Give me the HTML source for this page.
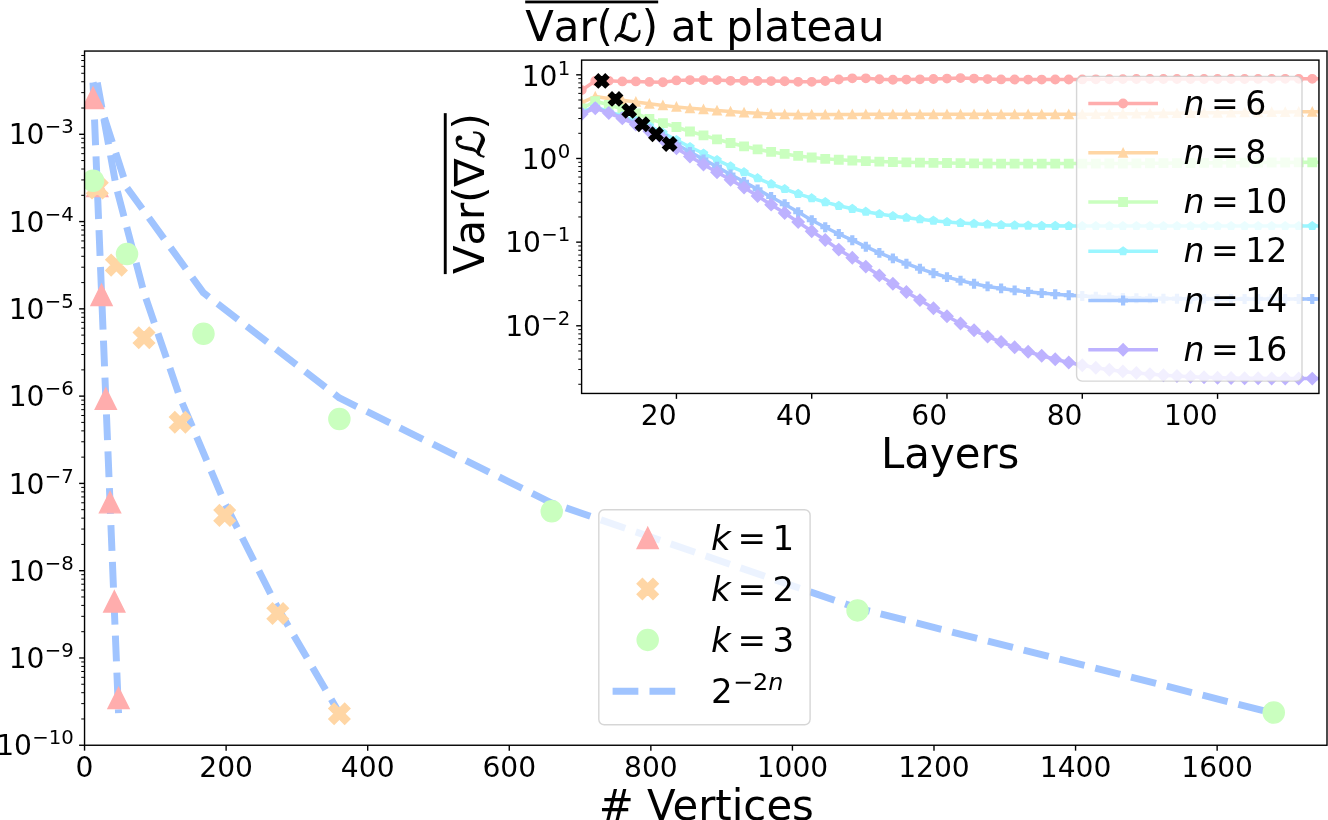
<!DOCTYPE html>
<html><head><meta charset="utf-8"><title>Var(L) at plateau</title>
<style>html,body{margin:0;padding:0;background:#fff}svg{display:block}</style></head>
<body>
<svg width="1328" height="820" viewBox="0 0 1328 820" font-family='"DejaVu Sans","Liberation Sans",sans-serif' fill="#000">
<rect width="1328" height="820" fill="#fff"/>
<defs><clipPath id="cm"><rect x="84.55" y="51.05" width="1242.45" height="694.2"/></clipPath>
<clipPath id="ci"><rect x="581.6" y="60.1" width="737.35" height="333.35"/></clipPath></defs>
<g clip-path="url(#cm)">
<polyline points="93.04,82.64 97.29,187.74 101.54,292.83 105.79,397.93 110.03,503.02 114.28,608.12 118.53,713.21" fill="none" stroke="#a0c4ff" stroke-width="6.96" stroke-dasharray="25.76 11.14" stroke-linejoin="round"/>
<polyline points="97.29,82.64 116.4,187.74 144.01,292.83 180.11,397.93 224.71,503.02 277.8,608.12 339.38,713.21" fill="none" stroke="#a0c4ff" stroke-width="6.96" stroke-dasharray="25.76 11.14" stroke-linejoin="round"/>
<polyline points="93.04,82.64 127.02,187.74 203.47,292.83 339.38,397.93 551.74,503.02 857.54,608.12 1273.77,713.21" fill="none" stroke="#a0c4ff" stroke-width="6.96" stroke-dasharray="25.76 11.14" stroke-linejoin="round"/>
<polygon points="93.04,87.35 82.49,108.45 103.59,108.45" fill="#ffadad" stroke="#ffadad" stroke-width="1.41" stroke-linejoin="miter"/>
<polygon points="97.29,175.35 86.74,196.45 107.84,196.45" fill="#ffadad" stroke="#ffadad" stroke-width="1.41" stroke-linejoin="miter"/>
<polygon points="101.54,284.35 90.99,305.45 112.09,305.45" fill="#ffadad" stroke="#ffadad" stroke-width="1.41" stroke-linejoin="miter"/>
<polygon points="105.79,388.15 95.24,409.25 116.34,409.25" fill="#ffadad" stroke="#ffadad" stroke-width="1.41" stroke-linejoin="miter"/>
<polygon points="110.03,491.75 99.48,512.85 120.58,512.85" fill="#ffadad" stroke="#ffadad" stroke-width="1.41" stroke-linejoin="miter"/>
<polygon points="114.28,590.95 103.73,612.05 124.83,612.05" fill="#ffadad" stroke="#ffadad" stroke-width="1.41" stroke-linejoin="miter"/>
<polygon points="118.53,687.55 107.98,708.65 129.08,708.65" fill="#ffadad" stroke="#ffadad" stroke-width="1.41" stroke-linejoin="miter"/>
<polygon points="92.02,177.45 97.29,182.72 102.57,177.45 107.84,182.72 102.57,188 107.84,193.28 102.57,198.55 97.29,193.28 92.02,198.55 86.74,193.28 92.02,188 86.74,182.72" fill="#ffd6a5" stroke="#ffd6a5" stroke-width="1.41" stroke-linejoin="miter"/>
<polygon points="111.13,254.55 116.4,259.82 121.68,254.55 126.95,259.82 121.68,265.1 126.95,270.38 121.68,275.65 116.4,270.38 111.13,275.65 105.85,270.38 111.13,265.1 105.85,259.82" fill="#ffd6a5" stroke="#ffd6a5" stroke-width="1.41" stroke-linejoin="miter"/>
<polygon points="138.74,327.25 144.01,332.52 149.29,327.25 154.56,332.52 149.29,337.8 154.56,343.08 149.29,348.35 144.01,343.08 138.74,348.35 133.46,343.08 138.74,337.8 133.46,332.52" fill="#ffd6a5" stroke="#ffd6a5" stroke-width="1.41" stroke-linejoin="miter"/>
<polygon points="174.84,411.65 180.11,416.92 185.39,411.65 190.66,416.92 185.39,422.2 190.66,427.48 185.39,432.75 180.11,427.48 174.84,432.75 169.56,427.48 174.84,422.2 169.56,416.92" fill="#ffd6a5" stroke="#ffd6a5" stroke-width="1.41" stroke-linejoin="miter"/>
<polygon points="219.43,504.85 224.71,510.12 229.98,504.85 235.26,510.12 229.98,515.4 235.26,520.68 229.98,525.95 224.71,520.68 219.43,525.95 214.16,520.68 219.43,515.4 214.16,510.12" fill="#ffd6a5" stroke="#ffd6a5" stroke-width="1.41" stroke-linejoin="miter"/>
<polygon points="272.52,602.95 277.8,608.22 283.07,602.95 288.35,608.22 283.07,613.5 288.35,618.78 283.07,624.05 277.8,618.78 272.52,624.05 267.25,618.78 272.52,613.5 267.25,608.22" fill="#ffd6a5" stroke="#ffd6a5" stroke-width="1.41" stroke-linejoin="miter"/>
<polygon points="334.11,703.15 339.38,708.42 344.66,703.15 349.93,708.42 344.66,713.7 349.93,718.98 344.66,724.25 339.38,718.98 334.11,724.25 328.83,718.98 334.11,713.7 328.83,708.42" fill="#ffd6a5" stroke="#ffd6a5" stroke-width="1.41" stroke-linejoin="miter"/>
<circle cx="93.04" cy="180.8" r="10.55" fill="#caffbf" stroke="#caffbf" stroke-width="1.41" stroke-linejoin="miter"/>
<circle cx="127.02" cy="254" r="10.55" fill="#caffbf" stroke="#caffbf" stroke-width="1.41" stroke-linejoin="miter"/>
<circle cx="203.47" cy="333.7" r="10.55" fill="#caffbf" stroke="#caffbf" stroke-width="1.41" stroke-linejoin="miter"/>
<circle cx="339.38" cy="419" r="10.55" fill="#caffbf" stroke="#caffbf" stroke-width="1.41" stroke-linejoin="miter"/>
<circle cx="551.74" cy="511.3" r="10.55" fill="#caffbf" stroke="#caffbf" stroke-width="1.41" stroke-linejoin="miter"/>
<circle cx="857.54" cy="610.4" r="10.55" fill="#caffbf" stroke="#caffbf" stroke-width="1.41" stroke-linejoin="miter"/>
<circle cx="1273.77" cy="712.5" r="10.55" fill="#caffbf" stroke="#caffbf" stroke-width="1.41" stroke-linejoin="miter"/>
</g>
<rect x="598.8" y="509.7" width="211.3" height="215.1" rx="5.5" ry="5.5" fill="#fff" fill-opacity="0.8" stroke="#ccc" stroke-opacity="0.8" stroke-width="1.41"/>
<polygon points="647.7,527.45 637.15,548.55 658.25,548.55" fill="#ffadad" stroke="#ffadad" stroke-width="1.41" stroke-linejoin="miter"/>
<polygon points="642.42,578.45 647.7,583.72 652.98,578.45 658.25,583.72 652.98,589 658.25,594.28 652.98,599.55 647.7,594.28 642.42,599.55 637.15,594.28 642.42,589 637.15,583.72" fill="#ffd6a5" stroke="#ffd6a5" stroke-width="1.41" stroke-linejoin="miter"/>
<circle cx="647.7" cy="639.9" r="10.55" fill="#caffbf" stroke="#caffbf" stroke-width="1.41" stroke-linejoin="miter"/>
<line x1="612.6" x2="679.3" y1="691.3" y2="691.3" stroke="#a0c4ff" stroke-width="6.96" stroke-dasharray="25.76 11.14"/>
<text font-size="34.1" y="549.6"><tspan x="711" font-style="oblique">k</tspan><tspan x="737.39">=</tspan><tspan x="772.61">1</tspan></text>
<text font-size="34.1" y="600.6"><tspan x="711" font-style="oblique">k</tspan><tspan x="737.39">=</tspan><tspan x="772.61">2</tspan></text>
<text font-size="34.1" y="651.5"><tspan x="711" font-style="oblique">k</tspan><tspan x="737.39">=</tspan><tspan x="772.61">3</tspan></text>
<text font-size="34.1" y="702.9"><tspan x="711">2</tspan><tspan font-size="23.87" x="733.02" dy="-13.05">−2</tspan><tspan font-size="23.87" font-style="oblique" x="768.21">n</tspan></text>
<rect x="84.55" y="51.05" width="1242.45" height="694.2" fill="none" stroke="#000" stroke-width="1.4"/>
<line x1="84.55" x2="84.55" y1="745.25" y2="750.67" stroke="#000" stroke-width="1.4"/>
<text x="84.55" y="776.75" font-size="28.13" text-anchor="middle" >0</text>
<line x1="226.12" x2="226.12" y1="745.25" y2="750.67" stroke="#000" stroke-width="1.4"/>
<text x="226.12" y="776.75" font-size="28.13" text-anchor="middle" >200</text>
<line x1="367.7" x2="367.7" y1="745.25" y2="750.67" stroke="#000" stroke-width="1.4"/>
<text x="367.7" y="776.75" font-size="28.13" text-anchor="middle" >400</text>
<line x1="509.27" x2="509.27" y1="745.25" y2="750.67" stroke="#000" stroke-width="1.4"/>
<text x="509.27" y="776.75" font-size="28.13" text-anchor="middle" >600</text>
<line x1="650.85" x2="650.85" y1="745.25" y2="750.67" stroke="#000" stroke-width="1.4"/>
<text x="650.85" y="776.75" font-size="28.13" text-anchor="middle" >800</text>
<line x1="792.42" x2="792.42" y1="745.25" y2="750.67" stroke="#000" stroke-width="1.4"/>
<text x="792.42" y="776.75" font-size="28.13" text-anchor="middle" >1000</text>
<line x1="933.99" x2="933.99" y1="745.25" y2="750.67" stroke="#000" stroke-width="1.4"/>
<text x="933.99" y="776.75" font-size="28.13" text-anchor="middle" >1200</text>
<line x1="1075.57" x2="1075.57" y1="745.25" y2="750.67" stroke="#000" stroke-width="1.4"/>
<text x="1075.57" y="776.75" font-size="28.13" text-anchor="middle" >1400</text>
<line x1="1217.14" x2="1217.14" y1="745.25" y2="750.67" stroke="#000" stroke-width="1.4"/>
<text x="1217.14" y="776.75" font-size="28.13" text-anchor="middle" >1600</text>
<line x1="79.13" x2="84.55" y1="745.25" y2="745.25" stroke="#000" stroke-width="1.4"/>
<text font-size="28.13" y="755.35" x="-3.82">10<tspan font-size="19.69" x="32.25" dy="-10.99">−10</tspan></text>
<line x1="79.13" x2="84.55" y1="657.97" y2="657.97" stroke="#000" stroke-width="1.4"/>
<text font-size="28.13" y="668.07" x="8.71">10<tspan font-size="19.69" x="44.78" dy="-10.99">−9</tspan></text>
<line x1="79.13" x2="84.55" y1="570.69" y2="570.69" stroke="#000" stroke-width="1.4"/>
<text font-size="28.13" y="580.79" x="8.71">10<tspan font-size="19.69" x="44.78" dy="-10.99">−8</tspan></text>
<line x1="79.13" x2="84.55" y1="483.41" y2="483.41" stroke="#000" stroke-width="1.4"/>
<text font-size="28.13" y="493.51" x="8.71">10<tspan font-size="19.69" x="44.78" dy="-10.99">−7</tspan></text>
<line x1="79.13" x2="84.55" y1="396.13" y2="396.13" stroke="#000" stroke-width="1.4"/>
<text font-size="28.13" y="406.23" x="8.71">10<tspan font-size="19.69" x="44.78" dy="-10.99">−6</tspan></text>
<line x1="79.13" x2="84.55" y1="308.85" y2="308.85" stroke="#000" stroke-width="1.4"/>
<text font-size="28.13" y="318.95" x="8.71">10<tspan font-size="19.69" x="44.78" dy="-10.99">−5</tspan></text>
<line x1="79.13" x2="84.55" y1="221.57" y2="221.57" stroke="#000" stroke-width="1.4"/>
<text font-size="28.13" y="231.67" x="8.71">10<tspan font-size="19.69" x="44.78" dy="-10.99">−4</tspan></text>
<line x1="79.13" x2="84.55" y1="134.29" y2="134.29" stroke="#000" stroke-width="1.4"/>
<text font-size="28.13" y="144.39" x="8.71">10<tspan font-size="19.69" x="44.78" dy="-10.99">−3</tspan></text>
<line x1="81.24" x2="84.55" y1="718.98" y2="718.98" stroke="#000" stroke-width="1.0"/>
<line x1="81.24" x2="84.55" y1="703.61" y2="703.61" stroke="#000" stroke-width="1.0"/>
<line x1="81.24" x2="84.55" y1="692.7" y2="692.7" stroke="#000" stroke-width="1.0"/>
<line x1="81.24" x2="84.55" y1="684.24" y2="684.24" stroke="#000" stroke-width="1.0"/>
<line x1="81.24" x2="84.55" y1="677.33" y2="677.33" stroke="#000" stroke-width="1.0"/>
<line x1="81.24" x2="84.55" y1="671.49" y2="671.49" stroke="#000" stroke-width="1.0"/>
<line x1="81.24" x2="84.55" y1="666.43" y2="666.43" stroke="#000" stroke-width="1.0"/>
<line x1="81.24" x2="84.55" y1="661.96" y2="661.96" stroke="#000" stroke-width="1.0"/>
<line x1="81.24" x2="84.55" y1="631.7" y2="631.7" stroke="#000" stroke-width="1.0"/>
<line x1="81.24" x2="84.55" y1="616.33" y2="616.33" stroke="#000" stroke-width="1.0"/>
<line x1="81.24" x2="84.55" y1="605.42" y2="605.42" stroke="#000" stroke-width="1.0"/>
<line x1="81.24" x2="84.55" y1="596.96" y2="596.96" stroke="#000" stroke-width="1.0"/>
<line x1="81.24" x2="84.55" y1="590.05" y2="590.05" stroke="#000" stroke-width="1.0"/>
<line x1="81.24" x2="84.55" y1="584.21" y2="584.21" stroke="#000" stroke-width="1.0"/>
<line x1="81.24" x2="84.55" y1="579.15" y2="579.15" stroke="#000" stroke-width="1.0"/>
<line x1="81.24" x2="84.55" y1="574.68" y2="574.68" stroke="#000" stroke-width="1.0"/>
<line x1="81.24" x2="84.55" y1="544.42" y2="544.42" stroke="#000" stroke-width="1.0"/>
<line x1="81.24" x2="84.55" y1="529.05" y2="529.05" stroke="#000" stroke-width="1.0"/>
<line x1="81.24" x2="84.55" y1="518.14" y2="518.14" stroke="#000" stroke-width="1.0"/>
<line x1="81.24" x2="84.55" y1="509.68" y2="509.68" stroke="#000" stroke-width="1.0"/>
<line x1="81.24" x2="84.55" y1="502.77" y2="502.77" stroke="#000" stroke-width="1.0"/>
<line x1="81.24" x2="84.55" y1="496.93" y2="496.93" stroke="#000" stroke-width="1.0"/>
<line x1="81.24" x2="84.55" y1="491.87" y2="491.87" stroke="#000" stroke-width="1.0"/>
<line x1="81.24" x2="84.55" y1="487.4" y2="487.4" stroke="#000" stroke-width="1.0"/>
<line x1="81.24" x2="84.55" y1="457.14" y2="457.14" stroke="#000" stroke-width="1.0"/>
<line x1="81.24" x2="84.55" y1="441.77" y2="441.77" stroke="#000" stroke-width="1.0"/>
<line x1="81.24" x2="84.55" y1="430.86" y2="430.86" stroke="#000" stroke-width="1.0"/>
<line x1="81.24" x2="84.55" y1="422.4" y2="422.4" stroke="#000" stroke-width="1.0"/>
<line x1="81.24" x2="84.55" y1="415.49" y2="415.49" stroke="#000" stroke-width="1.0"/>
<line x1="81.24" x2="84.55" y1="409.65" y2="409.65" stroke="#000" stroke-width="1.0"/>
<line x1="81.24" x2="84.55" y1="404.59" y2="404.59" stroke="#000" stroke-width="1.0"/>
<line x1="81.24" x2="84.55" y1="400.12" y2="400.12" stroke="#000" stroke-width="1.0"/>
<line x1="81.24" x2="84.55" y1="369.86" y2="369.86" stroke="#000" stroke-width="1.0"/>
<line x1="81.24" x2="84.55" y1="354.49" y2="354.49" stroke="#000" stroke-width="1.0"/>
<line x1="81.24" x2="84.55" y1="343.58" y2="343.58" stroke="#000" stroke-width="1.0"/>
<line x1="81.24" x2="84.55" y1="335.12" y2="335.12" stroke="#000" stroke-width="1.0"/>
<line x1="81.24" x2="84.55" y1="328.21" y2="328.21" stroke="#000" stroke-width="1.0"/>
<line x1="81.24" x2="84.55" y1="322.37" y2="322.37" stroke="#000" stroke-width="1.0"/>
<line x1="81.24" x2="84.55" y1="317.31" y2="317.31" stroke="#000" stroke-width="1.0"/>
<line x1="81.24" x2="84.55" y1="312.84" y2="312.84" stroke="#000" stroke-width="1.0"/>
<line x1="81.24" x2="84.55" y1="282.58" y2="282.58" stroke="#000" stroke-width="1.0"/>
<line x1="81.24" x2="84.55" y1="267.21" y2="267.21" stroke="#000" stroke-width="1.0"/>
<line x1="81.24" x2="84.55" y1="256.3" y2="256.3" stroke="#000" stroke-width="1.0"/>
<line x1="81.24" x2="84.55" y1="247.84" y2="247.84" stroke="#000" stroke-width="1.0"/>
<line x1="81.24" x2="84.55" y1="240.93" y2="240.93" stroke="#000" stroke-width="1.0"/>
<line x1="81.24" x2="84.55" y1="235.09" y2="235.09" stroke="#000" stroke-width="1.0"/>
<line x1="81.24" x2="84.55" y1="230.03" y2="230.03" stroke="#000" stroke-width="1.0"/>
<line x1="81.24" x2="84.55" y1="225.56" y2="225.56" stroke="#000" stroke-width="1.0"/>
<line x1="81.24" x2="84.55" y1="195.3" y2="195.3" stroke="#000" stroke-width="1.0"/>
<line x1="81.24" x2="84.55" y1="179.93" y2="179.93" stroke="#000" stroke-width="1.0"/>
<line x1="81.24" x2="84.55" y1="169.02" y2="169.02" stroke="#000" stroke-width="1.0"/>
<line x1="81.24" x2="84.55" y1="160.56" y2="160.56" stroke="#000" stroke-width="1.0"/>
<line x1="81.24" x2="84.55" y1="153.65" y2="153.65" stroke="#000" stroke-width="1.0"/>
<line x1="81.24" x2="84.55" y1="147.81" y2="147.81" stroke="#000" stroke-width="1.0"/>
<line x1="81.24" x2="84.55" y1="142.75" y2="142.75" stroke="#000" stroke-width="1.0"/>
<line x1="81.24" x2="84.55" y1="138.28" y2="138.28" stroke="#000" stroke-width="1.0"/>
<line x1="81.24" x2="84.55" y1="108.02" y2="108.02" stroke="#000" stroke-width="1.0"/>
<line x1="81.24" x2="84.55" y1="92.65" y2="92.65" stroke="#000" stroke-width="1.0"/>
<line x1="81.24" x2="84.55" y1="81.74" y2="81.74" stroke="#000" stroke-width="1.0"/>
<line x1="81.24" x2="84.55" y1="73.28" y2="73.28" stroke="#000" stroke-width="1.0"/>
<line x1="81.24" x2="84.55" y1="66.37" y2="66.37" stroke="#000" stroke-width="1.0"/>
<line x1="81.24" x2="84.55" y1="60.53" y2="60.53" stroke="#000" stroke-width="1.0"/>
<line x1="81.24" x2="84.55" y1="55.47" y2="55.47" stroke="#000" stroke-width="1.0"/>
<text x="706.3" y="819.6" font-size="41.85" text-anchor="middle" ># Vertices</text>
<text font-size="41.8" y="40.9" x="525.2 553.8 579.41 596.59">Var(</text>
<text transform="translate(613.4 40.9) skewX(-7)" font-size="37.62" x="0" y="0" stroke="#000" stroke-width="1.0">ℒ</text>
<text font-size="41.8" y="40.9" x="641.87">)</text>
<text font-size="41.85" y="40.5" x="671.0">at plateau</text>
<rect x="525.2" y="0.55" width="132.98" height="2.8"/>
<rect x="581.6" y="60.1" width="737.35" height="333.35" fill="#fff"/>
<g clip-path="url(#ci)">
<polyline points="581.73,90.1 595.26,81 608.79,80.8 622.32,81.4 635.85,81.4 649.37,81.9 662.9,82.2 676.43,80.4 689.96,80.1 703.49,80.1 717.01,80.1 730.54,80.8 744.07,80.8 757.6,81 771.13,81.1 784.66,81.2 798.18,81.8 811.71,81.8 825.24,81 838.77,79.5 852.3,78.3 865.82,78.3 879.35,79.2 892.88,79.7 906.41,79.56 919.94,79.3 933.47,78.99 946.99,78.6 960.52,78.1 974.05,78.6 987.58,79.07 1001.11,79.4 1014.63,79.54 1028.16,79.6 1041.69,79.58 1055.22,79.53 1068.75,79.47 1082.28,79.4 1095.8,79.32 1109.33,79.22 1122.86,79.11 1136.39,79.03 1149.92,79 1163.45,79 1176.97,79 1190.5,79 1204.03,79 1217.56,79 1231.09,78.99 1244.61,78.96 1258.14,78.92 1271.67,78.88 1285.2,78.84 1298.73,78.81 1312.26,78.8 1325.78,78.8" fill="none" stroke="#ffadad" stroke-width="3.52" stroke-linejoin="round"/>
<circle cx="581.73" cy="90.1" r="4.22" fill="#ffadad" stroke="#ffadad" stroke-width="1.41" stroke-linejoin="miter"/>
<circle cx="595.26" cy="81" r="4.22" fill="#ffadad" stroke="#ffadad" stroke-width="1.41" stroke-linejoin="miter"/>
<circle cx="608.79" cy="80.8" r="4.22" fill="#ffadad" stroke="#ffadad" stroke-width="1.41" stroke-linejoin="miter"/>
<circle cx="622.32" cy="81.4" r="4.22" fill="#ffadad" stroke="#ffadad" stroke-width="1.41" stroke-linejoin="miter"/>
<circle cx="635.85" cy="81.4" r="4.22" fill="#ffadad" stroke="#ffadad" stroke-width="1.41" stroke-linejoin="miter"/>
<circle cx="649.37" cy="81.9" r="4.22" fill="#ffadad" stroke="#ffadad" stroke-width="1.41" stroke-linejoin="miter"/>
<circle cx="662.9" cy="82.2" r="4.22" fill="#ffadad" stroke="#ffadad" stroke-width="1.41" stroke-linejoin="miter"/>
<circle cx="676.43" cy="80.4" r="4.22" fill="#ffadad" stroke="#ffadad" stroke-width="1.41" stroke-linejoin="miter"/>
<circle cx="689.96" cy="80.1" r="4.22" fill="#ffadad" stroke="#ffadad" stroke-width="1.41" stroke-linejoin="miter"/>
<circle cx="703.49" cy="80.1" r="4.22" fill="#ffadad" stroke="#ffadad" stroke-width="1.41" stroke-linejoin="miter"/>
<circle cx="717.01" cy="80.1" r="4.22" fill="#ffadad" stroke="#ffadad" stroke-width="1.41" stroke-linejoin="miter"/>
<circle cx="730.54" cy="80.8" r="4.22" fill="#ffadad" stroke="#ffadad" stroke-width="1.41" stroke-linejoin="miter"/>
<circle cx="744.07" cy="80.8" r="4.22" fill="#ffadad" stroke="#ffadad" stroke-width="1.41" stroke-linejoin="miter"/>
<circle cx="757.6" cy="81" r="4.22" fill="#ffadad" stroke="#ffadad" stroke-width="1.41" stroke-linejoin="miter"/>
<circle cx="771.13" cy="81.1" r="4.22" fill="#ffadad" stroke="#ffadad" stroke-width="1.41" stroke-linejoin="miter"/>
<circle cx="784.66" cy="81.2" r="4.22" fill="#ffadad" stroke="#ffadad" stroke-width="1.41" stroke-linejoin="miter"/>
<circle cx="798.18" cy="81.8" r="4.22" fill="#ffadad" stroke="#ffadad" stroke-width="1.41" stroke-linejoin="miter"/>
<circle cx="811.71" cy="81.8" r="4.22" fill="#ffadad" stroke="#ffadad" stroke-width="1.41" stroke-linejoin="miter"/>
<circle cx="825.24" cy="81" r="4.22" fill="#ffadad" stroke="#ffadad" stroke-width="1.41" stroke-linejoin="miter"/>
<circle cx="838.77" cy="79.5" r="4.22" fill="#ffadad" stroke="#ffadad" stroke-width="1.41" stroke-linejoin="miter"/>
<circle cx="852.3" cy="78.3" r="4.22" fill="#ffadad" stroke="#ffadad" stroke-width="1.41" stroke-linejoin="miter"/>
<circle cx="865.82" cy="78.3" r="4.22" fill="#ffadad" stroke="#ffadad" stroke-width="1.41" stroke-linejoin="miter"/>
<circle cx="879.35" cy="79.2" r="4.22" fill="#ffadad" stroke="#ffadad" stroke-width="1.41" stroke-linejoin="miter"/>
<circle cx="892.88" cy="79.7" r="4.22" fill="#ffadad" stroke="#ffadad" stroke-width="1.41" stroke-linejoin="miter"/>
<circle cx="906.41" cy="79.56" r="4.22" fill="#ffadad" stroke="#ffadad" stroke-width="1.41" stroke-linejoin="miter"/>
<circle cx="919.94" cy="79.3" r="4.22" fill="#ffadad" stroke="#ffadad" stroke-width="1.41" stroke-linejoin="miter"/>
<circle cx="933.47" cy="78.99" r="4.22" fill="#ffadad" stroke="#ffadad" stroke-width="1.41" stroke-linejoin="miter"/>
<circle cx="946.99" cy="78.6" r="4.22" fill="#ffadad" stroke="#ffadad" stroke-width="1.41" stroke-linejoin="miter"/>
<circle cx="960.52" cy="78.1" r="4.22" fill="#ffadad" stroke="#ffadad" stroke-width="1.41" stroke-linejoin="miter"/>
<circle cx="974.05" cy="78.6" r="4.22" fill="#ffadad" stroke="#ffadad" stroke-width="1.41" stroke-linejoin="miter"/>
<circle cx="987.58" cy="79.07" r="4.22" fill="#ffadad" stroke="#ffadad" stroke-width="1.41" stroke-linejoin="miter"/>
<circle cx="1001.11" cy="79.4" r="4.22" fill="#ffadad" stroke="#ffadad" stroke-width="1.41" stroke-linejoin="miter"/>
<circle cx="1014.63" cy="79.54" r="4.22" fill="#ffadad" stroke="#ffadad" stroke-width="1.41" stroke-linejoin="miter"/>
<circle cx="1028.16" cy="79.6" r="4.22" fill="#ffadad" stroke="#ffadad" stroke-width="1.41" stroke-linejoin="miter"/>
<circle cx="1041.69" cy="79.58" r="4.22" fill="#ffadad" stroke="#ffadad" stroke-width="1.41" stroke-linejoin="miter"/>
<circle cx="1055.22" cy="79.53" r="4.22" fill="#ffadad" stroke="#ffadad" stroke-width="1.41" stroke-linejoin="miter"/>
<circle cx="1068.75" cy="79.47" r="4.22" fill="#ffadad" stroke="#ffadad" stroke-width="1.41" stroke-linejoin="miter"/>
<circle cx="1082.28" cy="79.4" r="4.22" fill="#ffadad" stroke="#ffadad" stroke-width="1.41" stroke-linejoin="miter"/>
<circle cx="1095.8" cy="79.32" r="4.22" fill="#ffadad" stroke="#ffadad" stroke-width="1.41" stroke-linejoin="miter"/>
<circle cx="1109.33" cy="79.22" r="4.22" fill="#ffadad" stroke="#ffadad" stroke-width="1.41" stroke-linejoin="miter"/>
<circle cx="1122.86" cy="79.11" r="4.22" fill="#ffadad" stroke="#ffadad" stroke-width="1.41" stroke-linejoin="miter"/>
<circle cx="1136.39" cy="79.03" r="4.22" fill="#ffadad" stroke="#ffadad" stroke-width="1.41" stroke-linejoin="miter"/>
<circle cx="1149.92" cy="79" r="4.22" fill="#ffadad" stroke="#ffadad" stroke-width="1.41" stroke-linejoin="miter"/>
<circle cx="1163.45" cy="79" r="4.22" fill="#ffadad" stroke="#ffadad" stroke-width="1.41" stroke-linejoin="miter"/>
<circle cx="1176.97" cy="79" r="4.22" fill="#ffadad" stroke="#ffadad" stroke-width="1.41" stroke-linejoin="miter"/>
<circle cx="1190.5" cy="79" r="4.22" fill="#ffadad" stroke="#ffadad" stroke-width="1.41" stroke-linejoin="miter"/>
<circle cx="1204.03" cy="79" r="4.22" fill="#ffadad" stroke="#ffadad" stroke-width="1.41" stroke-linejoin="miter"/>
<circle cx="1217.56" cy="79" r="4.22" fill="#ffadad" stroke="#ffadad" stroke-width="1.41" stroke-linejoin="miter"/>
<circle cx="1231.09" cy="78.99" r="4.22" fill="#ffadad" stroke="#ffadad" stroke-width="1.41" stroke-linejoin="miter"/>
<circle cx="1244.61" cy="78.96" r="4.22" fill="#ffadad" stroke="#ffadad" stroke-width="1.41" stroke-linejoin="miter"/>
<circle cx="1258.14" cy="78.92" r="4.22" fill="#ffadad" stroke="#ffadad" stroke-width="1.41" stroke-linejoin="miter"/>
<circle cx="1271.67" cy="78.88" r="4.22" fill="#ffadad" stroke="#ffadad" stroke-width="1.41" stroke-linejoin="miter"/>
<circle cx="1285.2" cy="78.84" r="4.22" fill="#ffadad" stroke="#ffadad" stroke-width="1.41" stroke-linejoin="miter"/>
<circle cx="1298.73" cy="78.81" r="4.22" fill="#ffadad" stroke="#ffadad" stroke-width="1.41" stroke-linejoin="miter"/>
<circle cx="1312.26" cy="78.8" r="4.22" fill="#ffadad" stroke="#ffadad" stroke-width="1.41" stroke-linejoin="miter"/>
<circle cx="1325.78" cy="78.8" r="4.22" fill="#ffadad" stroke="#ffadad" stroke-width="1.41" stroke-linejoin="miter"/>
<polyline points="581.73,102.6 595.26,96.5 608.79,98.6 622.32,100.2 635.85,101.9 649.37,103.7 662.9,105.4 676.43,106.9 689.96,108.2 703.49,109.3 717.01,110.5 730.54,111.6 744.07,112.5 757.6,113.3 771.13,114 784.66,114.35 798.18,114.5 811.71,114.5 825.24,114.5 838.77,114.47 852.3,114.41 865.82,114.35 879.35,114.3 892.88,114.27 906.41,114.24 919.94,114.22 933.47,114.21 946.99,114.2 960.52,114.2 974.05,114.2 987.58,114.2 1001.11,114.2 1014.63,114.2 1028.16,114.2 1041.69,114.2 1055.22,114.2 1068.75,114.2 1082.28,114.2 1095.8,114.15 1109.33,114.03 1122.86,113.85 1136.39,113.67 1149.92,113.5 1163.45,113.35 1176.97,113.18 1190.5,113.02 1204.03,112.85 1217.56,112.7 1231.09,112.55 1244.61,112.42 1258.14,112.28 1271.67,112.14 1285.2,112 1298.73,111.84 1312.26,111.7 1325.78,111.6" fill="none" stroke="#ffd6a5" stroke-width="3.52" stroke-linejoin="round"/>
<polygon points="581.73,98.38 577.51,106.82 585.95,106.82" fill="#ffd6a5" stroke="#ffd6a5" stroke-width="1.41" stroke-linejoin="miter"/>
<polygon points="595.26,92.28 591.04,100.72 599.48,100.72" fill="#ffd6a5" stroke="#ffd6a5" stroke-width="1.41" stroke-linejoin="miter"/>
<polygon points="608.79,94.38 604.57,102.82 613.01,102.82" fill="#ffd6a5" stroke="#ffd6a5" stroke-width="1.41" stroke-linejoin="miter"/>
<polygon points="622.32,95.98 618.1,104.42 626.54,104.42" fill="#ffd6a5" stroke="#ffd6a5" stroke-width="1.41" stroke-linejoin="miter"/>
<polygon points="635.85,97.68 631.63,106.12 640.07,106.12" fill="#ffd6a5" stroke="#ffd6a5" stroke-width="1.41" stroke-linejoin="miter"/>
<polygon points="649.37,99.48 645.15,107.92 653.59,107.92" fill="#ffd6a5" stroke="#ffd6a5" stroke-width="1.41" stroke-linejoin="miter"/>
<polygon points="662.9,101.18 658.68,109.62 667.12,109.62" fill="#ffd6a5" stroke="#ffd6a5" stroke-width="1.41" stroke-linejoin="miter"/>
<polygon points="676.43,102.68 672.21,111.12 680.65,111.12" fill="#ffd6a5" stroke="#ffd6a5" stroke-width="1.41" stroke-linejoin="miter"/>
<polygon points="689.96,103.98 685.74,112.42 694.18,112.42" fill="#ffd6a5" stroke="#ffd6a5" stroke-width="1.41" stroke-linejoin="miter"/>
<polygon points="703.49,105.08 699.27,113.52 707.71,113.52" fill="#ffd6a5" stroke="#ffd6a5" stroke-width="1.41" stroke-linejoin="miter"/>
<polygon points="717.01,106.28 712.79,114.72 721.23,114.72" fill="#ffd6a5" stroke="#ffd6a5" stroke-width="1.41" stroke-linejoin="miter"/>
<polygon points="730.54,107.38 726.32,115.82 734.76,115.82" fill="#ffd6a5" stroke="#ffd6a5" stroke-width="1.41" stroke-linejoin="miter"/>
<polygon points="744.07,108.28 739.85,116.72 748.29,116.72" fill="#ffd6a5" stroke="#ffd6a5" stroke-width="1.41" stroke-linejoin="miter"/>
<polygon points="757.6,109.08 753.38,117.52 761.82,117.52" fill="#ffd6a5" stroke="#ffd6a5" stroke-width="1.41" stroke-linejoin="miter"/>
<polygon points="771.13,109.78 766.91,118.22 775.35,118.22" fill="#ffd6a5" stroke="#ffd6a5" stroke-width="1.41" stroke-linejoin="miter"/>
<polygon points="784.66,110.13 780.44,118.57 788.88,118.57" fill="#ffd6a5" stroke="#ffd6a5" stroke-width="1.41" stroke-linejoin="miter"/>
<polygon points="798.18,110.28 793.96,118.72 802.4,118.72" fill="#ffd6a5" stroke="#ffd6a5" stroke-width="1.41" stroke-linejoin="miter"/>
<polygon points="811.71,110.28 807.49,118.72 815.93,118.72" fill="#ffd6a5" stroke="#ffd6a5" stroke-width="1.41" stroke-linejoin="miter"/>
<polygon points="825.24,110.28 821.02,118.72 829.46,118.72" fill="#ffd6a5" stroke="#ffd6a5" stroke-width="1.41" stroke-linejoin="miter"/>
<polygon points="838.77,110.25 834.55,118.69 842.99,118.69" fill="#ffd6a5" stroke="#ffd6a5" stroke-width="1.41" stroke-linejoin="miter"/>
<polygon points="852.3,110.19 848.08,118.63 856.52,118.63" fill="#ffd6a5" stroke="#ffd6a5" stroke-width="1.41" stroke-linejoin="miter"/>
<polygon points="865.82,110.13 861.6,118.57 870.04,118.57" fill="#ffd6a5" stroke="#ffd6a5" stroke-width="1.41" stroke-linejoin="miter"/>
<polygon points="879.35,110.08 875.13,118.52 883.57,118.52" fill="#ffd6a5" stroke="#ffd6a5" stroke-width="1.41" stroke-linejoin="miter"/>
<polygon points="892.88,110.05 888.66,118.49 897.1,118.49" fill="#ffd6a5" stroke="#ffd6a5" stroke-width="1.41" stroke-linejoin="miter"/>
<polygon points="906.41,110.02 902.19,118.46 910.63,118.46" fill="#ffd6a5" stroke="#ffd6a5" stroke-width="1.41" stroke-linejoin="miter"/>
<polygon points="919.94,110 915.72,118.44 924.16,118.44" fill="#ffd6a5" stroke="#ffd6a5" stroke-width="1.41" stroke-linejoin="miter"/>
<polygon points="933.47,109.99 929.25,118.43 937.69,118.43" fill="#ffd6a5" stroke="#ffd6a5" stroke-width="1.41" stroke-linejoin="miter"/>
<polygon points="946.99,109.98 942.77,118.42 951.21,118.42" fill="#ffd6a5" stroke="#ffd6a5" stroke-width="1.41" stroke-linejoin="miter"/>
<polygon points="960.52,109.98 956.3,118.42 964.74,118.42" fill="#ffd6a5" stroke="#ffd6a5" stroke-width="1.41" stroke-linejoin="miter"/>
<polygon points="974.05,109.98 969.83,118.42 978.27,118.42" fill="#ffd6a5" stroke="#ffd6a5" stroke-width="1.41" stroke-linejoin="miter"/>
<polygon points="987.58,109.98 983.36,118.42 991.8,118.42" fill="#ffd6a5" stroke="#ffd6a5" stroke-width="1.41" stroke-linejoin="miter"/>
<polygon points="1001.11,109.98 996.89,118.42 1005.33,118.42" fill="#ffd6a5" stroke="#ffd6a5" stroke-width="1.41" stroke-linejoin="miter"/>
<polygon points="1014.63,109.98 1010.41,118.42 1018.86,118.42" fill="#ffd6a5" stroke="#ffd6a5" stroke-width="1.41" stroke-linejoin="miter"/>
<polygon points="1028.16,109.98 1023.94,118.42 1032.38,118.42" fill="#ffd6a5" stroke="#ffd6a5" stroke-width="1.41" stroke-linejoin="miter"/>
<polygon points="1041.69,109.98 1037.47,118.42 1045.91,118.42" fill="#ffd6a5" stroke="#ffd6a5" stroke-width="1.41" stroke-linejoin="miter"/>
<polygon points="1055.22,109.98 1051,118.42 1059.44,118.42" fill="#ffd6a5" stroke="#ffd6a5" stroke-width="1.41" stroke-linejoin="miter"/>
<polygon points="1068.75,109.98 1064.53,118.42 1072.97,118.42" fill="#ffd6a5" stroke="#ffd6a5" stroke-width="1.41" stroke-linejoin="miter"/>
<polygon points="1082.28,109.98 1078.06,118.42 1086.5,118.42" fill="#ffd6a5" stroke="#ffd6a5" stroke-width="1.41" stroke-linejoin="miter"/>
<polygon points="1095.8,109.93 1091.58,118.37 1100.02,118.37" fill="#ffd6a5" stroke="#ffd6a5" stroke-width="1.41" stroke-linejoin="miter"/>
<polygon points="1109.33,109.81 1105.11,118.25 1113.55,118.25" fill="#ffd6a5" stroke="#ffd6a5" stroke-width="1.41" stroke-linejoin="miter"/>
<polygon points="1122.86,109.63 1118.64,118.07 1127.08,118.07" fill="#ffd6a5" stroke="#ffd6a5" stroke-width="1.41" stroke-linejoin="miter"/>
<polygon points="1136.39,109.45 1132.17,117.89 1140.61,117.89" fill="#ffd6a5" stroke="#ffd6a5" stroke-width="1.41" stroke-linejoin="miter"/>
<polygon points="1149.92,109.28 1145.7,117.72 1154.14,117.72" fill="#ffd6a5" stroke="#ffd6a5" stroke-width="1.41" stroke-linejoin="miter"/>
<polygon points="1163.45,109.13 1159.23,117.57 1167.67,117.57" fill="#ffd6a5" stroke="#ffd6a5" stroke-width="1.41" stroke-linejoin="miter"/>
<polygon points="1176.97,108.96 1172.75,117.4 1181.19,117.4" fill="#ffd6a5" stroke="#ffd6a5" stroke-width="1.41" stroke-linejoin="miter"/>
<polygon points="1190.5,108.8 1186.28,117.24 1194.72,117.24" fill="#ffd6a5" stroke="#ffd6a5" stroke-width="1.41" stroke-linejoin="miter"/>
<polygon points="1204.03,108.63 1199.81,117.07 1208.25,117.07" fill="#ffd6a5" stroke="#ffd6a5" stroke-width="1.41" stroke-linejoin="miter"/>
<polygon points="1217.56,108.48 1213.34,116.92 1221.78,116.92" fill="#ffd6a5" stroke="#ffd6a5" stroke-width="1.41" stroke-linejoin="miter"/>
<polygon points="1231.09,108.33 1226.87,116.78 1235.31,116.78" fill="#ffd6a5" stroke="#ffd6a5" stroke-width="1.41" stroke-linejoin="miter"/>
<polygon points="1244.61,108.2 1240.39,116.64 1248.83,116.64" fill="#ffd6a5" stroke="#ffd6a5" stroke-width="1.41" stroke-linejoin="miter"/>
<polygon points="1258.14,108.06 1253.92,116.5 1262.36,116.5" fill="#ffd6a5" stroke="#ffd6a5" stroke-width="1.41" stroke-linejoin="miter"/>
<polygon points="1271.67,107.92 1267.45,116.36 1275.89,116.36" fill="#ffd6a5" stroke="#ffd6a5" stroke-width="1.41" stroke-linejoin="miter"/>
<polygon points="1285.2,107.78 1280.98,116.22 1289.42,116.22" fill="#ffd6a5" stroke="#ffd6a5" stroke-width="1.41" stroke-linejoin="miter"/>
<polygon points="1298.73,107.62 1294.51,116.06 1302.95,116.06" fill="#ffd6a5" stroke="#ffd6a5" stroke-width="1.41" stroke-linejoin="miter"/>
<polygon points="1312.26,107.48 1308.04,115.92 1316.48,115.92" fill="#ffd6a5" stroke="#ffd6a5" stroke-width="1.41" stroke-linejoin="miter"/>
<polygon points="1325.78,107.38 1321.56,115.82 1330,115.82" fill="#ffd6a5" stroke="#ffd6a5" stroke-width="1.41" stroke-linejoin="miter"/>
<polyline points="581.73,108.5 595.26,101.25 608.79,104.8 622.32,109.1 635.85,113.45 649.37,118.9 662.9,123.1 676.43,127 689.96,131.5 703.49,135.4 717.01,139.3 730.54,143 744.07,146.3 757.6,149.3 771.13,151.9 784.66,153.9 798.18,155.9 811.71,157.5 825.24,158.8 838.77,159.7 852.3,160.5 865.82,161.1 879.35,161.6 892.88,162 906.41,162.33 919.94,162.6 933.47,162.82 946.99,163 960.52,163.16 974.05,163.32 987.58,163.46 1001.11,163.56 1014.63,163.6 1028.16,163.6 1041.69,163.6 1055.22,163.6 1068.75,163.6 1082.28,163.6 1095.8,163.58 1109.33,163.54 1122.86,163.47 1136.39,163.39 1149.92,163.29 1163.45,163.19 1176.97,163.08 1190.5,162.98 1204.03,162.88 1217.56,162.8 1231.09,162.73 1244.61,162.66 1258.14,162.59 1271.67,162.53 1285.2,162.46 1298.73,162.38 1312.26,162.3 1325.78,162.2" fill="none" stroke="#caffbf" stroke-width="3.52" stroke-linejoin="round"/>
<polygon points="577.51,104.28 585.95,104.28 585.95,112.72 577.51,112.72" fill="#caffbf" stroke="#caffbf" stroke-width="1.41" stroke-linejoin="miter"/>
<polygon points="591.04,97.03 599.48,97.03 599.48,105.47 591.04,105.47" fill="#caffbf" stroke="#caffbf" stroke-width="1.41" stroke-linejoin="miter"/>
<polygon points="604.57,100.58 613.01,100.58 613.01,109.02 604.57,109.02" fill="#caffbf" stroke="#caffbf" stroke-width="1.41" stroke-linejoin="miter"/>
<polygon points="618.1,104.88 626.54,104.88 626.54,113.32 618.1,113.32" fill="#caffbf" stroke="#caffbf" stroke-width="1.41" stroke-linejoin="miter"/>
<polygon points="631.63,109.23 640.07,109.23 640.07,117.67 631.63,117.67" fill="#caffbf" stroke="#caffbf" stroke-width="1.41" stroke-linejoin="miter"/>
<polygon points="645.15,114.68 653.59,114.68 653.59,123.12 645.15,123.12" fill="#caffbf" stroke="#caffbf" stroke-width="1.41" stroke-linejoin="miter"/>
<polygon points="658.68,118.88 667.12,118.88 667.12,127.32 658.68,127.32" fill="#caffbf" stroke="#caffbf" stroke-width="1.41" stroke-linejoin="miter"/>
<polygon points="672.21,122.78 680.65,122.78 680.65,131.22 672.21,131.22" fill="#caffbf" stroke="#caffbf" stroke-width="1.41" stroke-linejoin="miter"/>
<polygon points="685.74,127.28 694.18,127.28 694.18,135.72 685.74,135.72" fill="#caffbf" stroke="#caffbf" stroke-width="1.41" stroke-linejoin="miter"/>
<polygon points="699.27,131.18 707.71,131.18 707.71,139.62 699.27,139.62" fill="#caffbf" stroke="#caffbf" stroke-width="1.41" stroke-linejoin="miter"/>
<polygon points="712.79,135.08 721.23,135.08 721.23,143.52 712.79,143.52" fill="#caffbf" stroke="#caffbf" stroke-width="1.41" stroke-linejoin="miter"/>
<polygon points="726.32,138.78 734.76,138.78 734.76,147.22 726.32,147.22" fill="#caffbf" stroke="#caffbf" stroke-width="1.41" stroke-linejoin="miter"/>
<polygon points="739.85,142.08 748.29,142.08 748.29,150.52 739.85,150.52" fill="#caffbf" stroke="#caffbf" stroke-width="1.41" stroke-linejoin="miter"/>
<polygon points="753.38,145.08 761.82,145.08 761.82,153.52 753.38,153.52" fill="#caffbf" stroke="#caffbf" stroke-width="1.41" stroke-linejoin="miter"/>
<polygon points="766.91,147.68 775.35,147.68 775.35,156.12 766.91,156.12" fill="#caffbf" stroke="#caffbf" stroke-width="1.41" stroke-linejoin="miter"/>
<polygon points="780.44,149.68 788.88,149.68 788.88,158.12 780.44,158.12" fill="#caffbf" stroke="#caffbf" stroke-width="1.41" stroke-linejoin="miter"/>
<polygon points="793.96,151.68 802.4,151.68 802.4,160.12 793.96,160.12" fill="#caffbf" stroke="#caffbf" stroke-width="1.41" stroke-linejoin="miter"/>
<polygon points="807.49,153.28 815.93,153.28 815.93,161.72 807.49,161.72" fill="#caffbf" stroke="#caffbf" stroke-width="1.41" stroke-linejoin="miter"/>
<polygon points="821.02,154.58 829.46,154.58 829.46,163.02 821.02,163.02" fill="#caffbf" stroke="#caffbf" stroke-width="1.41" stroke-linejoin="miter"/>
<polygon points="834.55,155.48 842.99,155.48 842.99,163.92 834.55,163.92" fill="#caffbf" stroke="#caffbf" stroke-width="1.41" stroke-linejoin="miter"/>
<polygon points="848.08,156.28 856.52,156.28 856.52,164.72 848.08,164.72" fill="#caffbf" stroke="#caffbf" stroke-width="1.41" stroke-linejoin="miter"/>
<polygon points="861.6,156.88 870.04,156.88 870.04,165.32 861.6,165.32" fill="#caffbf" stroke="#caffbf" stroke-width="1.41" stroke-linejoin="miter"/>
<polygon points="875.13,157.38 883.57,157.38 883.57,165.82 875.13,165.82" fill="#caffbf" stroke="#caffbf" stroke-width="1.41" stroke-linejoin="miter"/>
<polygon points="888.66,157.78 897.1,157.78 897.1,166.22 888.66,166.22" fill="#caffbf" stroke="#caffbf" stroke-width="1.41" stroke-linejoin="miter"/>
<polygon points="902.19,158.11 910.63,158.11 910.63,166.55 902.19,166.55" fill="#caffbf" stroke="#caffbf" stroke-width="1.41" stroke-linejoin="miter"/>
<polygon points="915.72,158.38 924.16,158.38 924.16,166.82 915.72,166.82" fill="#caffbf" stroke="#caffbf" stroke-width="1.41" stroke-linejoin="miter"/>
<polygon points="929.25,158.6 937.69,158.6 937.69,167.04 929.25,167.04" fill="#caffbf" stroke="#caffbf" stroke-width="1.41" stroke-linejoin="miter"/>
<polygon points="942.77,158.78 951.21,158.78 951.21,167.22 942.77,167.22" fill="#caffbf" stroke="#caffbf" stroke-width="1.41" stroke-linejoin="miter"/>
<polygon points="956.3,158.94 964.74,158.94 964.74,167.38 956.3,167.38" fill="#caffbf" stroke="#caffbf" stroke-width="1.41" stroke-linejoin="miter"/>
<polygon points="969.83,159.1 978.27,159.1 978.27,167.54 969.83,167.54" fill="#caffbf" stroke="#caffbf" stroke-width="1.41" stroke-linejoin="miter"/>
<polygon points="983.36,159.24 991.8,159.24 991.8,167.68 983.36,167.68" fill="#caffbf" stroke="#caffbf" stroke-width="1.41" stroke-linejoin="miter"/>
<polygon points="996.89,159.34 1005.33,159.34 1005.33,167.78 996.89,167.78" fill="#caffbf" stroke="#caffbf" stroke-width="1.41" stroke-linejoin="miter"/>
<polygon points="1010.41,159.38 1018.86,159.38 1018.86,167.82 1010.41,167.82" fill="#caffbf" stroke="#caffbf" stroke-width="1.41" stroke-linejoin="miter"/>
<polygon points="1023.94,159.38 1032.38,159.38 1032.38,167.82 1023.94,167.82" fill="#caffbf" stroke="#caffbf" stroke-width="1.41" stroke-linejoin="miter"/>
<polygon points="1037.47,159.38 1045.91,159.38 1045.91,167.82 1037.47,167.82" fill="#caffbf" stroke="#caffbf" stroke-width="1.41" stroke-linejoin="miter"/>
<polygon points="1051,159.38 1059.44,159.38 1059.44,167.82 1051,167.82" fill="#caffbf" stroke="#caffbf" stroke-width="1.41" stroke-linejoin="miter"/>
<polygon points="1064.53,159.38 1072.97,159.38 1072.97,167.82 1064.53,167.82" fill="#caffbf" stroke="#caffbf" stroke-width="1.41" stroke-linejoin="miter"/>
<polygon points="1078.06,159.38 1086.5,159.38 1086.5,167.82 1078.06,167.82" fill="#caffbf" stroke="#caffbf" stroke-width="1.41" stroke-linejoin="miter"/>
<polygon points="1091.58,159.36 1100.02,159.36 1100.02,167.8 1091.58,167.8" fill="#caffbf" stroke="#caffbf" stroke-width="1.41" stroke-linejoin="miter"/>
<polygon points="1105.11,159.32 1113.55,159.32 1113.55,167.76 1105.11,167.76" fill="#caffbf" stroke="#caffbf" stroke-width="1.41" stroke-linejoin="miter"/>
<polygon points="1118.64,159.25 1127.08,159.25 1127.08,167.69 1118.64,167.69" fill="#caffbf" stroke="#caffbf" stroke-width="1.41" stroke-linejoin="miter"/>
<polygon points="1132.17,159.17 1140.61,159.17 1140.61,167.61 1132.17,167.61" fill="#caffbf" stroke="#caffbf" stroke-width="1.41" stroke-linejoin="miter"/>
<polygon points="1145.7,159.07 1154.14,159.07 1154.14,167.51 1145.7,167.51" fill="#caffbf" stroke="#caffbf" stroke-width="1.41" stroke-linejoin="miter"/>
<polygon points="1159.23,158.97 1167.67,158.97 1167.67,167.41 1159.23,167.41" fill="#caffbf" stroke="#caffbf" stroke-width="1.41" stroke-linejoin="miter"/>
<polygon points="1172.75,158.86 1181.19,158.86 1181.19,167.3 1172.75,167.3" fill="#caffbf" stroke="#caffbf" stroke-width="1.41" stroke-linejoin="miter"/>
<polygon points="1186.28,158.76 1194.72,158.76 1194.72,167.2 1186.28,167.2" fill="#caffbf" stroke="#caffbf" stroke-width="1.41" stroke-linejoin="miter"/>
<polygon points="1199.81,158.66 1208.25,158.66 1208.25,167.1 1199.81,167.1" fill="#caffbf" stroke="#caffbf" stroke-width="1.41" stroke-linejoin="miter"/>
<polygon points="1213.34,158.58 1221.78,158.58 1221.78,167.02 1213.34,167.02" fill="#caffbf" stroke="#caffbf" stroke-width="1.41" stroke-linejoin="miter"/>
<polygon points="1226.87,158.51 1235.31,158.51 1235.31,166.95 1226.87,166.95" fill="#caffbf" stroke="#caffbf" stroke-width="1.41" stroke-linejoin="miter"/>
<polygon points="1240.39,158.44 1248.83,158.44 1248.83,166.88 1240.39,166.88" fill="#caffbf" stroke="#caffbf" stroke-width="1.41" stroke-linejoin="miter"/>
<polygon points="1253.92,158.37 1262.36,158.37 1262.36,166.81 1253.92,166.81" fill="#caffbf" stroke="#caffbf" stroke-width="1.41" stroke-linejoin="miter"/>
<polygon points="1267.45,158.31 1275.89,158.31 1275.89,166.75 1267.45,166.75" fill="#caffbf" stroke="#caffbf" stroke-width="1.41" stroke-linejoin="miter"/>
<polygon points="1280.98,158.24 1289.42,158.24 1289.42,166.68 1280.98,166.68" fill="#caffbf" stroke="#caffbf" stroke-width="1.41" stroke-linejoin="miter"/>
<polygon points="1294.51,158.16 1302.95,158.16 1302.95,166.6 1294.51,166.6" fill="#caffbf" stroke="#caffbf" stroke-width="1.41" stroke-linejoin="miter"/>
<polygon points="1308.04,158.08 1316.48,158.08 1316.48,166.52 1308.04,166.52" fill="#caffbf" stroke="#caffbf" stroke-width="1.41" stroke-linejoin="miter"/>
<polygon points="1321.56,157.98 1330,157.98 1330,166.42 1321.56,166.42" fill="#caffbf" stroke="#caffbf" stroke-width="1.41" stroke-linejoin="miter"/>
<polyline points="581.73,112 595.26,106.9 608.79,111.7 622.32,116 635.85,120.8 649.37,126 662.9,132.8 676.43,140 689.96,147 703.49,153.5 717.01,160 730.54,166.4 744.07,172.2 757.6,178.2 771.13,184.1 784.66,189 798.18,193.8 811.71,198.2 825.24,202.1 838.77,205.8 852.3,208.8 865.82,211.7 879.35,214 892.88,216 906.41,217.7 919.94,219.2 933.47,220.7 946.99,222 960.52,222.93 974.05,223.7 987.58,224.43 1001.11,225 1014.63,225.36 1028.16,225.6 1041.69,225.75 1055.22,225.88 1068.75,225.97 1082.28,226 1095.8,226 1109.33,226 1122.86,226 1136.39,226 1149.92,226 1163.45,226 1176.97,226 1190.5,226 1204.03,226 1217.56,226 1231.09,226 1244.61,226 1258.14,226 1271.67,226 1285.2,226 1298.73,226 1312.26,226 1325.78,226" fill="none" stroke="#9bf6ff" stroke-width="3.52" stroke-linejoin="round"/>
<polygon points="581.73,107.78 585.75,110.7 584.21,115.41 579.25,115.41 577.72,110.7" fill="#9bf6ff" stroke="#9bf6ff" stroke-width="1.41" stroke-linejoin="miter"/>
<polygon points="595.26,102.68 599.27,105.6 597.74,110.31 592.78,110.31 591.25,105.6" fill="#9bf6ff" stroke="#9bf6ff" stroke-width="1.41" stroke-linejoin="miter"/>
<polygon points="608.79,107.48 612.8,110.4 611.27,115.11 606.31,115.11 604.78,110.4" fill="#9bf6ff" stroke="#9bf6ff" stroke-width="1.41" stroke-linejoin="miter"/>
<polygon points="622.32,111.78 626.33,114.7 624.8,119.41 619.84,119.41 618.3,114.7" fill="#9bf6ff" stroke="#9bf6ff" stroke-width="1.41" stroke-linejoin="miter"/>
<polygon points="635.85,116.58 639.86,119.5 638.33,124.21 633.36,124.21 631.83,119.5" fill="#9bf6ff" stroke="#9bf6ff" stroke-width="1.41" stroke-linejoin="miter"/>
<polygon points="649.37,121.78 653.39,124.7 651.85,129.41 646.89,129.41 645.36,124.7" fill="#9bf6ff" stroke="#9bf6ff" stroke-width="1.41" stroke-linejoin="miter"/>
<polygon points="662.9,128.58 666.92,131.5 665.38,136.21 660.42,136.21 658.89,131.5" fill="#9bf6ff" stroke="#9bf6ff" stroke-width="1.41" stroke-linejoin="miter"/>
<polygon points="676.43,135.78 680.44,138.7 678.91,143.41 673.95,143.41 672.42,138.7" fill="#9bf6ff" stroke="#9bf6ff" stroke-width="1.41" stroke-linejoin="miter"/>
<polygon points="689.96,142.78 693.97,145.7 692.44,150.41 687.48,150.41 685.94,145.7" fill="#9bf6ff" stroke="#9bf6ff" stroke-width="1.41" stroke-linejoin="miter"/>
<polygon points="703.49,149.28 707.5,152.2 705.97,156.91 701.01,156.91 699.47,152.2" fill="#9bf6ff" stroke="#9bf6ff" stroke-width="1.41" stroke-linejoin="miter"/>
<polygon points="717.01,155.78 721.03,158.7 719.5,163.41 714.53,163.41 713,158.7" fill="#9bf6ff" stroke="#9bf6ff" stroke-width="1.41" stroke-linejoin="miter"/>
<polygon points="730.54,162.18 734.56,165.1 733.02,169.81 728.06,169.81 726.53,165.1" fill="#9bf6ff" stroke="#9bf6ff" stroke-width="1.41" stroke-linejoin="miter"/>
<polygon points="744.07,167.98 748.08,170.9 746.55,175.61 741.59,175.61 740.06,170.9" fill="#9bf6ff" stroke="#9bf6ff" stroke-width="1.41" stroke-linejoin="miter"/>
<polygon points="757.6,173.98 761.61,176.9 760.08,181.61 755.12,181.61 753.59,176.9" fill="#9bf6ff" stroke="#9bf6ff" stroke-width="1.41" stroke-linejoin="miter"/>
<polygon points="771.13,179.88 775.14,182.8 773.61,187.51 768.65,187.51 767.11,182.8" fill="#9bf6ff" stroke="#9bf6ff" stroke-width="1.41" stroke-linejoin="miter"/>
<polygon points="784.66,184.78 788.67,187.7 787.14,192.41 782.18,192.41 780.64,187.7" fill="#9bf6ff" stroke="#9bf6ff" stroke-width="1.41" stroke-linejoin="miter"/>
<polygon points="798.18,189.58 802.2,192.5 800.66,197.21 795.7,197.21 794.17,192.5" fill="#9bf6ff" stroke="#9bf6ff" stroke-width="1.41" stroke-linejoin="miter"/>
<polygon points="811.71,193.98 815.73,196.9 814.19,201.61 809.23,201.61 807.7,196.9" fill="#9bf6ff" stroke="#9bf6ff" stroke-width="1.41" stroke-linejoin="miter"/>
<polygon points="825.24,197.88 829.25,200.8 827.72,205.51 822.76,205.51 821.23,200.8" fill="#9bf6ff" stroke="#9bf6ff" stroke-width="1.41" stroke-linejoin="miter"/>
<polygon points="838.77,201.58 842.78,204.5 841.25,209.21 836.29,209.21 834.75,204.5" fill="#9bf6ff" stroke="#9bf6ff" stroke-width="1.41" stroke-linejoin="miter"/>
<polygon points="852.3,204.58 856.31,207.5 854.78,212.21 849.82,212.21 848.28,207.5" fill="#9bf6ff" stroke="#9bf6ff" stroke-width="1.41" stroke-linejoin="miter"/>
<polygon points="865.82,207.48 869.84,210.4 868.31,215.11 863.34,215.11 861.81,210.4" fill="#9bf6ff" stroke="#9bf6ff" stroke-width="1.41" stroke-linejoin="miter"/>
<polygon points="879.35,209.78 883.37,212.7 881.83,217.41 876.87,217.41 875.34,212.7" fill="#9bf6ff" stroke="#9bf6ff" stroke-width="1.41" stroke-linejoin="miter"/>
<polygon points="892.88,211.78 896.89,214.7 895.36,219.41 890.4,219.41 888.87,214.7" fill="#9bf6ff" stroke="#9bf6ff" stroke-width="1.41" stroke-linejoin="miter"/>
<polygon points="906.41,213.48 910.42,216.4 908.89,221.11 903.93,221.11 902.4,216.4" fill="#9bf6ff" stroke="#9bf6ff" stroke-width="1.41" stroke-linejoin="miter"/>
<polygon points="919.94,214.98 923.95,217.9 922.42,222.61 917.46,222.61 915.92,217.9" fill="#9bf6ff" stroke="#9bf6ff" stroke-width="1.41" stroke-linejoin="miter"/>
<polygon points="933.47,216.48 937.48,219.39 935.95,224.11 930.99,224.11 929.45,219.39" fill="#9bf6ff" stroke="#9bf6ff" stroke-width="1.41" stroke-linejoin="miter"/>
<polygon points="946.99,217.78 951.01,220.7 949.47,225.41 944.51,225.41 942.98,220.7" fill="#9bf6ff" stroke="#9bf6ff" stroke-width="1.41" stroke-linejoin="miter"/>
<polygon points="960.52,218.71 964.54,221.63 963,226.34 958.04,226.34 956.51,221.63" fill="#9bf6ff" stroke="#9bf6ff" stroke-width="1.41" stroke-linejoin="miter"/>
<polygon points="974.05,219.48 978.06,222.4 976.53,227.11 971.57,227.11 970.04,222.4" fill="#9bf6ff" stroke="#9bf6ff" stroke-width="1.41" stroke-linejoin="miter"/>
<polygon points="987.58,220.21 991.59,223.13 990.06,227.85 985.1,227.85 983.57,223.13" fill="#9bf6ff" stroke="#9bf6ff" stroke-width="1.41" stroke-linejoin="miter"/>
<polygon points="1001.11,220.78 1005.12,223.7 1003.59,228.41 998.63,228.41 997.09,223.7" fill="#9bf6ff" stroke="#9bf6ff" stroke-width="1.41" stroke-linejoin="miter"/>
<polygon points="1014.63,221.14 1018.65,224.06 1017.12,228.78 1012.15,228.78 1010.62,224.06" fill="#9bf6ff" stroke="#9bf6ff" stroke-width="1.41" stroke-linejoin="miter"/>
<polygon points="1028.16,221.38 1032.18,224.3 1030.64,229.01 1025.68,229.01 1024.15,224.3" fill="#9bf6ff" stroke="#9bf6ff" stroke-width="1.41" stroke-linejoin="miter"/>
<polygon points="1041.69,221.53 1045.7,224.45 1044.17,229.17 1039.21,229.17 1037.68,224.45" fill="#9bf6ff" stroke="#9bf6ff" stroke-width="1.41" stroke-linejoin="miter"/>
<polygon points="1055.22,221.66 1059.23,224.58 1057.7,229.29 1052.74,229.29 1051.21,224.58" fill="#9bf6ff" stroke="#9bf6ff" stroke-width="1.41" stroke-linejoin="miter"/>
<polygon points="1068.75,221.75 1072.76,224.66 1071.23,229.38 1066.27,229.38 1064.73,224.66" fill="#9bf6ff" stroke="#9bf6ff" stroke-width="1.41" stroke-linejoin="miter"/>
<polygon points="1082.28,221.78 1086.29,224.7 1084.76,229.41 1079.8,229.41 1078.26,224.7" fill="#9bf6ff" stroke="#9bf6ff" stroke-width="1.41" stroke-linejoin="miter"/>
<polygon points="1095.8,221.78 1099.82,224.7 1098.28,229.41 1093.32,229.41 1091.79,224.7" fill="#9bf6ff" stroke="#9bf6ff" stroke-width="1.41" stroke-linejoin="miter"/>
<polygon points="1109.33,221.78 1113.35,224.7 1111.81,229.41 1106.85,229.41 1105.32,224.7" fill="#9bf6ff" stroke="#9bf6ff" stroke-width="1.41" stroke-linejoin="miter"/>
<polygon points="1122.86,221.78 1126.87,224.7 1125.34,229.41 1120.38,229.41 1118.85,224.7" fill="#9bf6ff" stroke="#9bf6ff" stroke-width="1.41" stroke-linejoin="miter"/>
<polygon points="1136.39,221.78 1140.4,224.7 1138.87,229.41 1133.91,229.41 1132.38,224.7" fill="#9bf6ff" stroke="#9bf6ff" stroke-width="1.41" stroke-linejoin="miter"/>
<polygon points="1149.92,221.78 1153.93,224.7 1152.4,229.41 1147.44,229.41 1145.9,224.7" fill="#9bf6ff" stroke="#9bf6ff" stroke-width="1.41" stroke-linejoin="miter"/>
<polygon points="1163.45,221.78 1167.46,224.7 1165.93,229.41 1160.96,229.41 1159.43,224.7" fill="#9bf6ff" stroke="#9bf6ff" stroke-width="1.41" stroke-linejoin="miter"/>
<polygon points="1176.97,221.78 1180.99,224.7 1179.45,229.41 1174.49,229.41 1172.96,224.7" fill="#9bf6ff" stroke="#9bf6ff" stroke-width="1.41" stroke-linejoin="miter"/>
<polygon points="1190.5,221.78 1194.52,224.7 1192.98,229.41 1188.02,229.41 1186.49,224.7" fill="#9bf6ff" stroke="#9bf6ff" stroke-width="1.41" stroke-linejoin="miter"/>
<polygon points="1204.03,221.78 1208.04,224.7 1206.51,229.41 1201.55,229.41 1200.02,224.7" fill="#9bf6ff" stroke="#9bf6ff" stroke-width="1.41" stroke-linejoin="miter"/>
<polygon points="1217.56,221.78 1221.57,224.7 1220.04,229.41 1215.08,229.41 1213.54,224.7" fill="#9bf6ff" stroke="#9bf6ff" stroke-width="1.41" stroke-linejoin="miter"/>
<polygon points="1231.09,221.78 1235.1,224.7 1233.57,229.41 1228.61,229.41 1227.07,224.7" fill="#9bf6ff" stroke="#9bf6ff" stroke-width="1.41" stroke-linejoin="miter"/>
<polygon points="1244.61,221.78 1248.63,224.7 1247.09,229.41 1242.13,229.41 1240.6,224.7" fill="#9bf6ff" stroke="#9bf6ff" stroke-width="1.41" stroke-linejoin="miter"/>
<polygon points="1258.14,221.78 1262.16,224.7 1260.62,229.41 1255.66,229.41 1254.13,224.7" fill="#9bf6ff" stroke="#9bf6ff" stroke-width="1.41" stroke-linejoin="miter"/>
<polygon points="1271.67,221.78 1275.68,224.7 1274.15,229.41 1269.19,229.41 1267.66,224.7" fill="#9bf6ff" stroke="#9bf6ff" stroke-width="1.41" stroke-linejoin="miter"/>
<polygon points="1285.2,221.78 1289.21,224.7 1287.68,229.41 1282.72,229.41 1281.19,224.7" fill="#9bf6ff" stroke="#9bf6ff" stroke-width="1.41" stroke-linejoin="miter"/>
<polygon points="1298.73,221.78 1302.74,224.7 1301.21,229.41 1296.25,229.41 1294.71,224.7" fill="#9bf6ff" stroke="#9bf6ff" stroke-width="1.41" stroke-linejoin="miter"/>
<polygon points="1312.26,221.78 1316.27,224.7 1314.74,229.41 1309.77,229.41 1308.24,224.7" fill="#9bf6ff" stroke="#9bf6ff" stroke-width="1.41" stroke-linejoin="miter"/>
<polygon points="1325.78,221.78 1329.8,224.7 1328.26,229.41 1323.3,229.41 1321.77,224.7" fill="#9bf6ff" stroke="#9bf6ff" stroke-width="1.41" stroke-linejoin="miter"/>
<polyline points="581.73,113.2 595.26,107.7 608.79,112.55 622.32,117.5 635.85,123.2 649.37,129.2 662.9,136.4 676.43,144.3 689.96,152 703.49,159.4 717.01,166.7 730.54,174.5 744.07,181.8 757.6,189.4 771.13,197 784.66,204.2 798.18,212.1 811.71,220.2 825.24,227.2 838.77,234 852.3,240.2 865.82,246.7 879.35,252.9 892.88,258.4 906.41,263.7 919.94,268.7 933.47,273.2 946.99,277.1 960.52,280.6 974.05,283.7 987.58,286.4 1001.11,288.4 1014.63,290.3 1028.16,291.9 1041.69,293.1 1055.22,294.2 1068.75,295.2 1082.28,296 1095.8,296.7 1109.33,297.3 1122.86,297.81 1136.39,298.2 1149.92,298.44 1163.45,298.6 1176.97,298.71 1190.5,298.79 1204.03,298.86 1217.56,298.9 1231.09,298.92 1244.61,298.95 1258.14,298.96 1271.67,298.98 1285.2,298.99 1298.73,299 1312.26,299 1325.78,299" fill="none" stroke="#a0c4ff" stroke-width="3.52" stroke-linejoin="round"/>
<polygon points="580.33,108.98 583.14,108.98 583.14,111.79 585.95,111.79 585.95,114.61 583.14,114.61 583.14,117.42 580.33,117.42 580.33,114.61 577.51,114.61 577.51,111.79 580.33,111.79" fill="#a0c4ff" stroke="#a0c4ff" stroke-width="1.41" stroke-linejoin="miter"/>
<polygon points="593.85,103.48 596.67,103.48 596.67,106.29 599.48,106.29 599.48,109.11 596.67,109.11 596.67,111.92 593.85,111.92 593.85,109.11 591.04,109.11 591.04,106.29 593.85,106.29" fill="#a0c4ff" stroke="#a0c4ff" stroke-width="1.41" stroke-linejoin="miter"/>
<polygon points="607.38,108.33 610.2,108.33 610.2,111.14 613.01,111.14 613.01,113.96 610.2,113.96 610.2,116.77 607.38,116.77 607.38,113.96 604.57,113.96 604.57,111.14 607.38,111.14" fill="#a0c4ff" stroke="#a0c4ff" stroke-width="1.41" stroke-linejoin="miter"/>
<polygon points="620.91,113.28 623.72,113.28 623.72,116.09 626.54,116.09 626.54,118.91 623.72,118.91 623.72,121.72 620.91,121.72 620.91,118.91 618.1,118.91 618.1,116.09 620.91,116.09" fill="#a0c4ff" stroke="#a0c4ff" stroke-width="1.41" stroke-linejoin="miter"/>
<polygon points="634.44,118.98 637.25,118.98 637.25,121.79 640.07,121.79 640.07,124.61 637.25,124.61 637.25,127.42 634.44,127.42 634.44,124.61 631.63,124.61 631.63,121.79 634.44,121.79" fill="#a0c4ff" stroke="#a0c4ff" stroke-width="1.41" stroke-linejoin="miter"/>
<polygon points="647.97,124.98 650.78,124.98 650.78,127.79 653.59,127.79 653.59,130.61 650.78,130.61 650.78,133.42 647.97,133.42 647.97,130.61 645.15,130.61 645.15,127.79 647.97,127.79" fill="#a0c4ff" stroke="#a0c4ff" stroke-width="1.41" stroke-linejoin="miter"/>
<polygon points="661.5,132.18 664.31,132.18 664.31,134.99 667.12,134.99 667.12,137.81 664.31,137.81 664.31,140.62 661.5,140.62 661.5,137.81 658.68,137.81 658.68,134.99 661.5,134.99" fill="#a0c4ff" stroke="#a0c4ff" stroke-width="1.41" stroke-linejoin="miter"/>
<polygon points="675.02,140.08 677.84,140.08 677.84,142.89 680.65,142.89 680.65,145.71 677.84,145.71 677.84,148.52 675.02,148.52 675.02,145.71 672.21,145.71 672.21,142.89 675.02,142.89" fill="#a0c4ff" stroke="#a0c4ff" stroke-width="1.41" stroke-linejoin="miter"/>
<polygon points="688.55,147.78 691.36,147.78 691.36,150.59 694.18,150.59 694.18,153.41 691.36,153.41 691.36,156.22 688.55,156.22 688.55,153.41 685.74,153.41 685.74,150.59 688.55,150.59" fill="#a0c4ff" stroke="#a0c4ff" stroke-width="1.41" stroke-linejoin="miter"/>
<polygon points="702.08,155.18 704.89,155.18 704.89,157.99 707.71,157.99 707.71,160.81 704.89,160.81 704.89,163.62 702.08,163.62 702.08,160.81 699.27,160.81 699.27,157.99 702.08,157.99" fill="#a0c4ff" stroke="#a0c4ff" stroke-width="1.41" stroke-linejoin="miter"/>
<polygon points="715.61,162.48 718.42,162.48 718.42,165.29 721.23,165.29 721.23,168.11 718.42,168.11 718.42,170.92 715.61,170.92 715.61,168.11 712.79,168.11 712.79,165.29 715.61,165.29" fill="#a0c4ff" stroke="#a0c4ff" stroke-width="1.41" stroke-linejoin="miter"/>
<polygon points="729.14,170.28 731.95,170.28 731.95,173.09 734.76,173.09 734.76,175.91 731.95,175.91 731.95,178.72 729.14,178.72 729.14,175.91 726.32,175.91 726.32,173.09 729.14,173.09" fill="#a0c4ff" stroke="#a0c4ff" stroke-width="1.41" stroke-linejoin="miter"/>
<polygon points="742.66,177.58 745.48,177.58 745.48,180.39 748.29,180.39 748.29,183.21 745.48,183.21 745.48,186.02 742.66,186.02 742.66,183.21 739.85,183.21 739.85,180.39 742.66,180.39" fill="#a0c4ff" stroke="#a0c4ff" stroke-width="1.41" stroke-linejoin="miter"/>
<polygon points="756.19,185.18 759.01,185.18 759.01,187.99 761.82,187.99 761.82,190.81 759.01,190.81 759.01,193.62 756.19,193.62 756.19,190.81 753.38,190.81 753.38,187.99 756.19,187.99" fill="#a0c4ff" stroke="#a0c4ff" stroke-width="1.41" stroke-linejoin="miter"/>
<polygon points="769.72,192.78 772.53,192.78 772.53,195.59 775.35,195.59 775.35,198.41 772.53,198.41 772.53,201.22 769.72,201.22 769.72,198.41 766.91,198.41 766.91,195.59 769.72,195.59" fill="#a0c4ff" stroke="#a0c4ff" stroke-width="1.41" stroke-linejoin="miter"/>
<polygon points="783.25,199.98 786.06,199.98 786.06,202.79 788.88,202.79 788.88,205.61 786.06,205.61 786.06,208.42 783.25,208.42 783.25,205.61 780.44,205.61 780.44,202.79 783.25,202.79" fill="#a0c4ff" stroke="#a0c4ff" stroke-width="1.41" stroke-linejoin="miter"/>
<polygon points="796.78,207.88 799.59,207.88 799.59,210.69 802.4,210.69 802.4,213.51 799.59,213.51 799.59,216.32 796.78,216.32 796.78,213.51 793.96,213.51 793.96,210.69 796.78,210.69" fill="#a0c4ff" stroke="#a0c4ff" stroke-width="1.41" stroke-linejoin="miter"/>
<polygon points="810.31,215.98 813.12,215.98 813.12,218.79 815.93,218.79 815.93,221.61 813.12,221.61 813.12,224.42 810.31,224.42 810.31,221.61 807.49,221.61 807.49,218.79 810.31,218.79" fill="#a0c4ff" stroke="#a0c4ff" stroke-width="1.41" stroke-linejoin="miter"/>
<polygon points="823.83,222.98 826.65,222.98 826.65,225.79 829.46,225.79 829.46,228.61 826.65,228.61 826.65,231.42 823.83,231.42 823.83,228.61 821.02,228.61 821.02,225.79 823.83,225.79" fill="#a0c4ff" stroke="#a0c4ff" stroke-width="1.41" stroke-linejoin="miter"/>
<polygon points="837.36,229.78 840.18,229.78 840.18,232.59 842.99,232.59 842.99,235.41 840.18,235.41 840.18,238.22 837.36,238.22 837.36,235.41 834.55,235.41 834.55,232.59 837.36,232.59" fill="#a0c4ff" stroke="#a0c4ff" stroke-width="1.41" stroke-linejoin="miter"/>
<polygon points="850.89,235.98 853.7,235.98 853.7,238.79 856.52,238.79 856.52,241.61 853.7,241.61 853.7,244.42 850.89,244.42 850.89,241.61 848.08,241.61 848.08,238.79 850.89,238.79" fill="#a0c4ff" stroke="#a0c4ff" stroke-width="1.41" stroke-linejoin="miter"/>
<polygon points="864.42,242.48 867.23,242.48 867.23,245.29 870.04,245.29 870.04,248.11 867.23,248.11 867.23,250.92 864.42,250.92 864.42,248.11 861.6,248.11 861.6,245.29 864.42,245.29" fill="#a0c4ff" stroke="#a0c4ff" stroke-width="1.41" stroke-linejoin="miter"/>
<polygon points="877.95,248.68 880.76,248.68 880.76,251.49 883.57,251.49 883.57,254.31 880.76,254.31 880.76,257.12 877.95,257.12 877.95,254.31 875.13,254.31 875.13,251.49 877.95,251.49" fill="#a0c4ff" stroke="#a0c4ff" stroke-width="1.41" stroke-linejoin="miter"/>
<polygon points="891.47,254.18 894.29,254.18 894.29,256.99 897.1,256.99 897.1,259.81 894.29,259.81 894.29,262.62 891.47,262.62 891.47,259.81 888.66,259.81 888.66,256.99 891.47,256.99" fill="#a0c4ff" stroke="#a0c4ff" stroke-width="1.41" stroke-linejoin="miter"/>
<polygon points="905,259.48 907.82,259.48 907.82,262.29 910.63,262.29 910.63,265.11 907.82,265.11 907.82,267.92 905,267.92 905,265.11 902.19,265.11 902.19,262.29 905,262.29" fill="#a0c4ff" stroke="#a0c4ff" stroke-width="1.41" stroke-linejoin="miter"/>
<polygon points="918.53,264.48 921.34,264.48 921.34,267.29 924.16,267.29 924.16,270.11 921.34,270.11 921.34,272.92 918.53,272.92 918.53,270.11 915.72,270.11 915.72,267.29 918.53,267.29" fill="#a0c4ff" stroke="#a0c4ff" stroke-width="1.41" stroke-linejoin="miter"/>
<polygon points="932.06,268.98 934.87,268.98 934.87,271.79 937.69,271.79 937.69,274.61 934.87,274.61 934.87,277.42 932.06,277.42 932.06,274.61 929.25,274.61 929.25,271.79 932.06,271.79" fill="#a0c4ff" stroke="#a0c4ff" stroke-width="1.41" stroke-linejoin="miter"/>
<polygon points="945.59,272.88 948.4,272.88 948.4,275.69 951.21,275.69 951.21,278.51 948.4,278.51 948.4,281.32 945.59,281.32 945.59,278.51 942.77,278.51 942.77,275.69 945.59,275.69" fill="#a0c4ff" stroke="#a0c4ff" stroke-width="1.41" stroke-linejoin="miter"/>
<polygon points="959.12,276.38 961.93,276.38 961.93,279.19 964.74,279.19 964.74,282.01 961.93,282.01 961.93,284.82 959.12,284.82 959.12,282.01 956.3,282.01 956.3,279.19 959.12,279.19" fill="#a0c4ff" stroke="#a0c4ff" stroke-width="1.41" stroke-linejoin="miter"/>
<polygon points="972.64,279.48 975.46,279.48 975.46,282.29 978.27,282.29 978.27,285.11 975.46,285.11 975.46,287.92 972.64,287.92 972.64,285.11 969.83,285.11 969.83,282.29 972.64,282.29" fill="#a0c4ff" stroke="#a0c4ff" stroke-width="1.41" stroke-linejoin="miter"/>
<polygon points="986.17,282.18 988.99,282.18 988.99,284.99 991.8,284.99 991.8,287.81 988.99,287.81 988.99,290.62 986.17,290.62 986.17,287.81 983.36,287.81 983.36,284.99 986.17,284.99" fill="#a0c4ff" stroke="#a0c4ff" stroke-width="1.41" stroke-linejoin="miter"/>
<polygon points="999.7,284.18 1002.51,284.18 1002.51,286.99 1005.33,286.99 1005.33,289.81 1002.51,289.81 1002.51,292.62 999.7,292.62 999.7,289.81 996.89,289.81 996.89,286.99 999.7,286.99" fill="#a0c4ff" stroke="#a0c4ff" stroke-width="1.41" stroke-linejoin="miter"/>
<polygon points="1013.23,286.08 1016.04,286.08 1016.04,288.89 1018.86,288.89 1018.86,291.71 1016.04,291.71 1016.04,294.52 1013.23,294.52 1013.23,291.71 1010.41,291.71 1010.41,288.89 1013.23,288.89" fill="#a0c4ff" stroke="#a0c4ff" stroke-width="1.41" stroke-linejoin="miter"/>
<polygon points="1026.76,287.68 1029.57,287.68 1029.57,290.49 1032.38,290.49 1032.38,293.31 1029.57,293.31 1029.57,296.12 1026.76,296.12 1026.76,293.31 1023.94,293.31 1023.94,290.49 1026.76,290.49" fill="#a0c4ff" stroke="#a0c4ff" stroke-width="1.41" stroke-linejoin="miter"/>
<polygon points="1040.28,288.88 1043.1,288.88 1043.1,291.69 1045.91,291.69 1045.91,294.51 1043.1,294.51 1043.1,297.32 1040.28,297.32 1040.28,294.51 1037.47,294.51 1037.47,291.69 1040.28,291.69" fill="#a0c4ff" stroke="#a0c4ff" stroke-width="1.41" stroke-linejoin="miter"/>
<polygon points="1053.81,289.98 1056.63,289.98 1056.63,292.79 1059.44,292.79 1059.44,295.61 1056.63,295.61 1056.63,298.42 1053.81,298.42 1053.81,295.61 1051,295.61 1051,292.79 1053.81,292.79" fill="#a0c4ff" stroke="#a0c4ff" stroke-width="1.41" stroke-linejoin="miter"/>
<polygon points="1067.34,290.98 1070.15,290.98 1070.15,293.79 1072.97,293.79 1072.97,296.61 1070.15,296.61 1070.15,299.42 1067.34,299.42 1067.34,296.61 1064.53,296.61 1064.53,293.79 1067.34,293.79" fill="#a0c4ff" stroke="#a0c4ff" stroke-width="1.41" stroke-linejoin="miter"/>
<polygon points="1080.87,291.78 1083.68,291.78 1083.68,294.59 1086.5,294.59 1086.5,297.41 1083.68,297.41 1083.68,300.22 1080.87,300.22 1080.87,297.41 1078.06,297.41 1078.06,294.59 1080.87,294.59" fill="#a0c4ff" stroke="#a0c4ff" stroke-width="1.41" stroke-linejoin="miter"/>
<polygon points="1094.4,292.48 1097.21,292.48 1097.21,295.29 1100.02,295.29 1100.02,298.11 1097.21,298.11 1097.21,300.92 1094.4,300.92 1094.4,298.11 1091.58,298.11 1091.58,295.29 1094.4,295.29" fill="#a0c4ff" stroke="#a0c4ff" stroke-width="1.41" stroke-linejoin="miter"/>
<polygon points="1107.93,293.08 1110.74,293.08 1110.74,295.89 1113.55,295.89 1113.55,298.71 1110.74,298.71 1110.74,301.52 1107.93,301.52 1107.93,298.71 1105.11,298.71 1105.11,295.89 1107.93,295.89" fill="#a0c4ff" stroke="#a0c4ff" stroke-width="1.41" stroke-linejoin="miter"/>
<polygon points="1121.45,293.59 1124.27,293.59 1124.27,296.41 1127.08,296.41 1127.08,299.22 1124.27,299.22 1124.27,302.03 1121.45,302.03 1121.45,299.22 1118.64,299.22 1118.64,296.41 1121.45,296.41" fill="#a0c4ff" stroke="#a0c4ff" stroke-width="1.41" stroke-linejoin="miter"/>
<polygon points="1134.98,293.98 1137.8,293.98 1137.8,296.79 1140.61,296.79 1140.61,299.61 1137.8,299.61 1137.8,302.42 1134.98,302.42 1134.98,299.61 1132.17,299.61 1132.17,296.79 1134.98,296.79" fill="#a0c4ff" stroke="#a0c4ff" stroke-width="1.41" stroke-linejoin="miter"/>
<polygon points="1148.51,294.22 1151.32,294.22 1151.32,297.03 1154.14,297.03 1154.14,299.85 1151.32,299.85 1151.32,302.66 1148.51,302.66 1148.51,299.85 1145.7,299.85 1145.7,297.03 1148.51,297.03" fill="#a0c4ff" stroke="#a0c4ff" stroke-width="1.41" stroke-linejoin="miter"/>
<polygon points="1162.04,294.38 1164.85,294.38 1164.85,297.19 1167.67,297.19 1167.67,300.01 1164.85,300.01 1164.85,302.82 1162.04,302.82 1162.04,300.01 1159.23,300.01 1159.23,297.19 1162.04,297.19" fill="#a0c4ff" stroke="#a0c4ff" stroke-width="1.41" stroke-linejoin="miter"/>
<polygon points="1175.57,294.49 1178.38,294.49 1178.38,297.3 1181.19,297.3 1181.19,300.11 1178.38,300.11 1178.38,302.93 1175.57,302.93 1175.57,300.11 1172.75,300.11 1172.75,297.3 1175.57,297.3" fill="#a0c4ff" stroke="#a0c4ff" stroke-width="1.41" stroke-linejoin="miter"/>
<polygon points="1189.09,294.57 1191.91,294.57 1191.91,297.39 1194.72,297.39 1194.72,300.2 1191.91,300.2 1191.91,303.01 1189.09,303.01 1189.09,300.2 1186.28,300.2 1186.28,297.39 1189.09,297.39" fill="#a0c4ff" stroke="#a0c4ff" stroke-width="1.41" stroke-linejoin="miter"/>
<polygon points="1202.62,294.64 1205.44,294.64 1205.44,297.45 1208.25,297.45 1208.25,300.27 1205.44,300.27 1205.44,303.08 1202.62,303.08 1202.62,300.27 1199.81,300.27 1199.81,297.45 1202.62,297.45" fill="#a0c4ff" stroke="#a0c4ff" stroke-width="1.41" stroke-linejoin="miter"/>
<polygon points="1216.15,294.68 1218.96,294.68 1218.96,297.49 1221.78,297.49 1221.78,300.31 1218.96,300.31 1218.96,303.12 1216.15,303.12 1216.15,300.31 1213.34,300.31 1213.34,297.49 1216.15,297.49" fill="#a0c4ff" stroke="#a0c4ff" stroke-width="1.41" stroke-linejoin="miter"/>
<polygon points="1229.68,294.7 1232.49,294.7 1232.49,297.52 1235.31,297.52 1235.31,300.33 1232.49,300.33 1232.49,303.14 1229.68,303.14 1229.68,300.33 1226.87,300.33 1226.87,297.52 1229.68,297.52" fill="#a0c4ff" stroke="#a0c4ff" stroke-width="1.41" stroke-linejoin="miter"/>
<polygon points="1243.21,294.73 1246.02,294.73 1246.02,297.54 1248.83,297.54 1248.83,300.35 1246.02,300.35 1246.02,303.17 1243.21,303.17 1243.21,300.35 1240.39,300.35 1240.39,297.54 1243.21,297.54" fill="#a0c4ff" stroke="#a0c4ff" stroke-width="1.41" stroke-linejoin="miter"/>
<polygon points="1256.74,294.74 1259.55,294.74 1259.55,297.56 1262.36,297.56 1262.36,300.37 1259.55,300.37 1259.55,303.18 1256.74,303.18 1256.74,300.37 1253.92,300.37 1253.92,297.56 1256.74,297.56" fill="#a0c4ff" stroke="#a0c4ff" stroke-width="1.41" stroke-linejoin="miter"/>
<polygon points="1270.26,294.76 1273.08,294.76 1273.08,297.57 1275.89,297.57 1275.89,300.39 1273.08,300.39 1273.08,303.2 1270.26,303.2 1270.26,300.39 1267.45,300.39 1267.45,297.57 1270.26,297.57" fill="#a0c4ff" stroke="#a0c4ff" stroke-width="1.41" stroke-linejoin="miter"/>
<polygon points="1283.79,294.77 1286.61,294.77 1286.61,297.58 1289.42,297.58 1289.42,300.4 1286.61,300.4 1286.61,303.21 1283.79,303.21 1283.79,300.4 1280.98,300.4 1280.98,297.58 1283.79,297.58" fill="#a0c4ff" stroke="#a0c4ff" stroke-width="1.41" stroke-linejoin="miter"/>
<polygon points="1297.32,294.78 1300.13,294.78 1300.13,297.59 1302.95,297.59 1302.95,300.4 1300.13,300.4 1300.13,303.22 1297.32,303.22 1297.32,300.4 1294.51,300.4 1294.51,297.59 1297.32,297.59" fill="#a0c4ff" stroke="#a0c4ff" stroke-width="1.41" stroke-linejoin="miter"/>
<polygon points="1310.85,294.78 1313.66,294.78 1313.66,297.59 1316.48,297.59 1316.48,300.41 1313.66,300.41 1313.66,303.22 1310.85,303.22 1310.85,300.41 1308.04,300.41 1308.04,297.59 1310.85,297.59" fill="#a0c4ff" stroke="#a0c4ff" stroke-width="1.41" stroke-linejoin="miter"/>
<polygon points="1324.38,294.78 1327.19,294.78 1327.19,297.59 1330,297.59 1330,300.41 1327.19,300.41 1327.19,303.22 1324.38,303.22 1324.38,300.41 1321.56,300.41 1321.56,297.59 1324.38,297.59" fill="#a0c4ff" stroke="#a0c4ff" stroke-width="1.41" stroke-linejoin="miter"/>
<polyline points="581.73,114 595.26,108.2 608.79,113.05 622.32,118.4 635.85,124.6 649.37,131.2 662.9,139.4 676.43,148.2 689.96,156.6 703.49,164.5 717.01,172.2 730.54,179.8 744.07,187.6 757.6,196 771.13,204.65 784.66,213 798.18,222.1 811.71,231.3 825.24,240 838.77,249.6 852.3,257.8 865.82,266.6 879.35,275.4 892.88,283.8 906.41,292 919.94,300.1 933.47,308.3 946.99,316.2 960.52,323.5 974.05,330.3 987.58,336.6 1001.11,341.9 1014.63,347.3 1028.16,351.8 1041.69,355.7 1055.22,359.2 1068.75,362.5 1082.28,365.3 1095.8,367.7 1109.33,369.7 1122.86,371.4 1136.39,372.9 1149.92,374.1 1163.45,375.2 1176.97,376 1190.5,376.7 1204.03,377.3 1217.56,377.7 1231.09,378 1244.61,378.2 1258.14,378.33 1271.67,378.44 1285.2,378.52 1298.73,378.58 1312.26,378.6 1325.78,378.6" fill="none" stroke="#bdb2ff" stroke-width="3.52" stroke-linejoin="round"/>
<polygon points="581.73,108.03 587.7,114 581.73,119.97 575.76,114" fill="#bdb2ff" stroke="#bdb2ff" stroke-width="1.41" stroke-linejoin="miter"/>
<polygon points="595.26,102.23 601.23,108.2 595.26,114.17 589.29,108.2" fill="#bdb2ff" stroke="#bdb2ff" stroke-width="1.41" stroke-linejoin="miter"/>
<polygon points="608.79,107.08 614.76,113.05 608.79,119.02 602.82,113.05" fill="#bdb2ff" stroke="#bdb2ff" stroke-width="1.41" stroke-linejoin="miter"/>
<polygon points="622.32,112.43 628.29,118.4 622.32,124.37 616.35,118.4" fill="#bdb2ff" stroke="#bdb2ff" stroke-width="1.41" stroke-linejoin="miter"/>
<polygon points="635.85,118.63 641.81,124.6 635.85,130.57 629.88,124.6" fill="#bdb2ff" stroke="#bdb2ff" stroke-width="1.41" stroke-linejoin="miter"/>
<polygon points="649.37,125.23 655.34,131.2 649.37,137.17 643.41,131.2" fill="#bdb2ff" stroke="#bdb2ff" stroke-width="1.41" stroke-linejoin="miter"/>
<polygon points="662.9,133.43 668.87,139.4 662.9,145.37 656.93,139.4" fill="#bdb2ff" stroke="#bdb2ff" stroke-width="1.41" stroke-linejoin="miter"/>
<polygon points="676.43,142.23 682.4,148.2 676.43,154.17 670.46,148.2" fill="#bdb2ff" stroke="#bdb2ff" stroke-width="1.41" stroke-linejoin="miter"/>
<polygon points="689.96,150.63 695.93,156.6 689.96,162.57 683.99,156.6" fill="#bdb2ff" stroke="#bdb2ff" stroke-width="1.41" stroke-linejoin="miter"/>
<polygon points="703.49,158.53 709.45,164.5 703.49,170.47 697.52,164.5" fill="#bdb2ff" stroke="#bdb2ff" stroke-width="1.41" stroke-linejoin="miter"/>
<polygon points="717.01,166.23 722.98,172.2 717.01,178.17 711.05,172.2" fill="#bdb2ff" stroke="#bdb2ff" stroke-width="1.41" stroke-linejoin="miter"/>
<polygon points="730.54,173.83 736.51,179.8 730.54,185.77 724.57,179.8" fill="#bdb2ff" stroke="#bdb2ff" stroke-width="1.41" stroke-linejoin="miter"/>
<polygon points="744.07,181.63 750.04,187.6 744.07,193.57 738.1,187.6" fill="#bdb2ff" stroke="#bdb2ff" stroke-width="1.41" stroke-linejoin="miter"/>
<polygon points="757.6,190.03 763.57,196 757.6,201.97 751.63,196" fill="#bdb2ff" stroke="#bdb2ff" stroke-width="1.41" stroke-linejoin="miter"/>
<polygon points="771.13,198.68 777.1,204.65 771.13,210.62 765.16,204.65" fill="#bdb2ff" stroke="#bdb2ff" stroke-width="1.41" stroke-linejoin="miter"/>
<polygon points="784.66,207.03 790.62,213 784.66,218.97 778.69,213" fill="#bdb2ff" stroke="#bdb2ff" stroke-width="1.41" stroke-linejoin="miter"/>
<polygon points="798.18,216.13 804.15,222.1 798.18,228.07 792.22,222.1" fill="#bdb2ff" stroke="#bdb2ff" stroke-width="1.41" stroke-linejoin="miter"/>
<polygon points="811.71,225.33 817.68,231.3 811.71,237.27 805.74,231.3" fill="#bdb2ff" stroke="#bdb2ff" stroke-width="1.41" stroke-linejoin="miter"/>
<polygon points="825.24,234.03 831.21,240 825.24,245.97 819.27,240" fill="#bdb2ff" stroke="#bdb2ff" stroke-width="1.41" stroke-linejoin="miter"/>
<polygon points="838.77,243.63 844.74,249.6 838.77,255.57 832.8,249.6" fill="#bdb2ff" stroke="#bdb2ff" stroke-width="1.41" stroke-linejoin="miter"/>
<polygon points="852.3,251.83 858.26,257.8 852.3,263.77 846.33,257.8" fill="#bdb2ff" stroke="#bdb2ff" stroke-width="1.41" stroke-linejoin="miter"/>
<polygon points="865.82,260.63 871.79,266.6 865.82,272.57 859.86,266.6" fill="#bdb2ff" stroke="#bdb2ff" stroke-width="1.41" stroke-linejoin="miter"/>
<polygon points="879.35,269.43 885.32,275.4 879.35,281.37 873.38,275.4" fill="#bdb2ff" stroke="#bdb2ff" stroke-width="1.41" stroke-linejoin="miter"/>
<polygon points="892.88,277.83 898.85,283.8 892.88,289.77 886.91,283.8" fill="#bdb2ff" stroke="#bdb2ff" stroke-width="1.41" stroke-linejoin="miter"/>
<polygon points="906.41,286.03 912.38,292 906.41,297.97 900.44,292" fill="#bdb2ff" stroke="#bdb2ff" stroke-width="1.41" stroke-linejoin="miter"/>
<polygon points="919.94,294.13 925.91,300.1 919.94,306.07 913.97,300.1" fill="#bdb2ff" stroke="#bdb2ff" stroke-width="1.41" stroke-linejoin="miter"/>
<polygon points="933.47,302.33 939.43,308.3 933.47,314.27 927.5,308.3" fill="#bdb2ff" stroke="#bdb2ff" stroke-width="1.41" stroke-linejoin="miter"/>
<polygon points="946.99,310.23 952.96,316.2 946.99,322.17 941.03,316.2" fill="#bdb2ff" stroke="#bdb2ff" stroke-width="1.41" stroke-linejoin="miter"/>
<polygon points="960.52,317.53 966.49,323.5 960.52,329.47 954.55,323.5" fill="#bdb2ff" stroke="#bdb2ff" stroke-width="1.41" stroke-linejoin="miter"/>
<polygon points="974.05,324.33 980.02,330.3 974.05,336.27 968.08,330.3" fill="#bdb2ff" stroke="#bdb2ff" stroke-width="1.41" stroke-linejoin="miter"/>
<polygon points="987.58,330.63 993.55,336.6 987.58,342.57 981.61,336.6" fill="#bdb2ff" stroke="#bdb2ff" stroke-width="1.41" stroke-linejoin="miter"/>
<polygon points="1001.11,335.93 1007.07,341.9 1001.11,347.87 995.14,341.9" fill="#bdb2ff" stroke="#bdb2ff" stroke-width="1.41" stroke-linejoin="miter"/>
<polygon points="1014.63,341.33 1020.6,347.3 1014.63,353.27 1008.67,347.3" fill="#bdb2ff" stroke="#bdb2ff" stroke-width="1.41" stroke-linejoin="miter"/>
<polygon points="1028.16,345.83 1034.13,351.8 1028.16,357.77 1022.2,351.8" fill="#bdb2ff" stroke="#bdb2ff" stroke-width="1.41" stroke-linejoin="miter"/>
<polygon points="1041.69,349.73 1047.66,355.7 1041.69,361.67 1035.72,355.7" fill="#bdb2ff" stroke="#bdb2ff" stroke-width="1.41" stroke-linejoin="miter"/>
<polygon points="1055.22,353.23 1061.19,359.2 1055.22,365.17 1049.25,359.2" fill="#bdb2ff" stroke="#bdb2ff" stroke-width="1.41" stroke-linejoin="miter"/>
<polygon points="1068.75,356.53 1074.72,362.5 1068.75,368.47 1062.78,362.5" fill="#bdb2ff" stroke="#bdb2ff" stroke-width="1.41" stroke-linejoin="miter"/>
<polygon points="1082.28,359.33 1088.24,365.3 1082.28,371.27 1076.31,365.3" fill="#bdb2ff" stroke="#bdb2ff" stroke-width="1.41" stroke-linejoin="miter"/>
<polygon points="1095.8,361.73 1101.77,367.7 1095.8,373.67 1089.84,367.7" fill="#bdb2ff" stroke="#bdb2ff" stroke-width="1.41" stroke-linejoin="miter"/>
<polygon points="1109.33,363.73 1115.3,369.7 1109.33,375.67 1103.36,369.7" fill="#bdb2ff" stroke="#bdb2ff" stroke-width="1.41" stroke-linejoin="miter"/>
<polygon points="1122.86,365.43 1128.83,371.4 1122.86,377.37 1116.89,371.4" fill="#bdb2ff" stroke="#bdb2ff" stroke-width="1.41" stroke-linejoin="miter"/>
<polygon points="1136.39,366.93 1142.36,372.9 1136.39,378.87 1130.42,372.9" fill="#bdb2ff" stroke="#bdb2ff" stroke-width="1.41" stroke-linejoin="miter"/>
<polygon points="1149.92,368.13 1155.89,374.1 1149.92,380.07 1143.95,374.1" fill="#bdb2ff" stroke="#bdb2ff" stroke-width="1.41" stroke-linejoin="miter"/>
<polygon points="1163.45,369.23 1169.41,375.2 1163.45,381.17 1157.48,375.2" fill="#bdb2ff" stroke="#bdb2ff" stroke-width="1.41" stroke-linejoin="miter"/>
<polygon points="1176.97,370.03 1182.94,376 1176.97,381.97 1171.01,376" fill="#bdb2ff" stroke="#bdb2ff" stroke-width="1.41" stroke-linejoin="miter"/>
<polygon points="1190.5,370.73 1196.47,376.7 1190.5,382.67 1184.53,376.7" fill="#bdb2ff" stroke="#bdb2ff" stroke-width="1.41" stroke-linejoin="miter"/>
<polygon points="1204.03,371.33 1210,377.3 1204.03,383.27 1198.06,377.3" fill="#bdb2ff" stroke="#bdb2ff" stroke-width="1.41" stroke-linejoin="miter"/>
<polygon points="1217.56,371.73 1223.53,377.7 1217.56,383.67 1211.59,377.7" fill="#bdb2ff" stroke="#bdb2ff" stroke-width="1.41" stroke-linejoin="miter"/>
<polygon points="1231.09,372.03 1237.05,378 1231.09,383.96 1225.12,378" fill="#bdb2ff" stroke="#bdb2ff" stroke-width="1.41" stroke-linejoin="miter"/>
<polygon points="1244.61,372.23 1250.58,378.2 1244.61,384.17 1238.65,378.2" fill="#bdb2ff" stroke="#bdb2ff" stroke-width="1.41" stroke-linejoin="miter"/>
<polygon points="1258.14,372.36 1264.11,378.33 1258.14,384.29 1252.17,378.33" fill="#bdb2ff" stroke="#bdb2ff" stroke-width="1.41" stroke-linejoin="miter"/>
<polygon points="1271.67,372.47 1277.64,378.44 1271.67,384.4 1265.7,378.44" fill="#bdb2ff" stroke="#bdb2ff" stroke-width="1.41" stroke-linejoin="miter"/>
<polygon points="1285.2,372.55 1291.17,378.52 1285.2,384.49 1279.23,378.52" fill="#bdb2ff" stroke="#bdb2ff" stroke-width="1.41" stroke-linejoin="miter"/>
<polygon points="1298.73,372.61 1304.7,378.58 1298.73,384.55 1292.76,378.58" fill="#bdb2ff" stroke="#bdb2ff" stroke-width="1.41" stroke-linejoin="miter"/>
<polygon points="1312.26,372.63 1318.22,378.6 1312.26,384.57 1306.29,378.6" fill="#bdb2ff" stroke="#bdb2ff" stroke-width="1.41" stroke-linejoin="miter"/>
<polygon points="1325.78,372.63 1331.75,378.6 1325.78,384.57 1319.82,378.6" fill="#bdb2ff" stroke="#bdb2ff" stroke-width="1.41" stroke-linejoin="miter"/>
<polygon points="598.32,73.95 601.8,77.43 605.27,73.95 608.75,77.43 605.27,80.9 608.75,84.38 605.27,87.85 601.8,84.38 598.32,87.85 594.85,84.38 598.32,80.9 594.85,77.43" fill="#000" stroke="#000" stroke-width="1.41" stroke-linejoin="miter"/>
<polygon points="612.02,91.95 615.5,95.43 618.98,91.95 622.45,95.43 618.98,98.9 622.45,102.38 618.98,105.85 615.5,102.38 612.02,105.85 608.55,102.38 612.02,98.9 608.55,95.43" fill="#000" stroke="#000" stroke-width="1.41" stroke-linejoin="miter"/>
<polygon points="625.73,103.75 629.2,107.23 632.68,103.75 636.15,107.23 632.68,110.7 636.15,114.17 632.68,117.65 629.2,114.17 625.73,117.65 622.25,114.17 625.73,110.7 622.25,107.23" fill="#000" stroke="#000" stroke-width="1.41" stroke-linejoin="miter"/>
<polygon points="638.92,117.35 642.4,120.83 645.88,117.35 649.35,120.83 645.88,124.3 649.35,127.77 645.88,131.25 642.4,127.77 638.92,131.25 635.45,127.77 638.92,124.3 635.45,120.83" fill="#000" stroke="#000" stroke-width="1.41" stroke-linejoin="miter"/>
<polygon points="652.52,127.35 656,130.83 659.48,127.35 662.95,130.83 659.48,134.3 662.95,137.78 659.48,141.25 656,137.78 652.52,141.25 649.05,137.78 652.52,134.3 649.05,130.83" fill="#000" stroke="#000" stroke-width="1.41" stroke-linejoin="miter"/>
<polygon points="666.12,137.05 669.6,140.53 673.08,137.05 676.55,140.53 673.08,144 676.55,147.47 673.08,150.95 669.6,147.47 666.12,150.95 662.65,147.47 666.12,144 662.65,140.53" fill="#000" stroke="#000" stroke-width="1.41" stroke-linejoin="miter"/>
</g>
<rect x="1076.6" y="76.4" width="225.4" height="304.7" rx="5.5" ry="5.5" fill="#fff" fill-opacity="0.8" stroke="#ccc" stroke-opacity="0.8" stroke-width="1.41"/>
<line x1="1088.3" x2="1158" y1="103.5" y2="103.5" stroke="#ffadad" stroke-width="3.52"/>
<circle cx="1123.1" cy="103.5" r="4.22" fill="#ffadad" stroke="#ffadad" stroke-width="1.41" stroke-linejoin="miter"/>
<text font-size="33.1" y="114.6"><tspan x="1183.6" font-style="oblique">n</tspan><tspan x="1211.03">=</tspan><tspan x="1245.21">6</tspan></text>
<line x1="1088.3" x2="1158" y1="152.75" y2="152.75" stroke="#ffd6a5" stroke-width="3.52"/>
<polygon points="1123.1,148.53 1118.88,156.97 1127.32,156.97" fill="#ffd6a5" stroke="#ffd6a5" stroke-width="1.41" stroke-linejoin="miter"/>
<text font-size="33.1" y="163.85"><tspan x="1183.6" font-style="oblique">n</tspan><tspan x="1211.03">=</tspan><tspan x="1245.21">8</tspan></text>
<line x1="1088.3" x2="1158" y1="202" y2="202" stroke="#caffbf" stroke-width="3.52"/>
<polygon points="1118.88,197.78 1127.32,197.78 1127.32,206.22 1118.88,206.22" fill="#caffbf" stroke="#caffbf" stroke-width="1.41" stroke-linejoin="miter"/>
<text font-size="33.1" y="213.1"><tspan x="1183.6" font-style="oblique">n</tspan><tspan x="1211.03">=</tspan><tspan x="1245.21">10</tspan></text>
<line x1="1088.3" x2="1158" y1="251.25" y2="251.25" stroke="#9bf6ff" stroke-width="3.52"/>
<polygon points="1123.1,247.03 1127.11,249.95 1125.58,254.66 1120.62,254.66 1119.09,249.95" fill="#9bf6ff" stroke="#9bf6ff" stroke-width="1.41" stroke-linejoin="miter"/>
<text font-size="33.1" y="262.35"><tspan x="1183.6" font-style="oblique">n</tspan><tspan x="1211.03">=</tspan><tspan x="1245.21">12</tspan></text>
<line x1="1088.3" x2="1158" y1="300.5" y2="300.5" stroke="#a0c4ff" stroke-width="3.52"/>
<polygon points="1121.69,296.28 1124.51,296.28 1124.51,299.09 1127.32,299.09 1127.32,301.91 1124.51,301.91 1124.51,304.72 1121.69,304.72 1121.69,301.91 1118.88,301.91 1118.88,299.09 1121.69,299.09" fill="#a0c4ff" stroke="#a0c4ff" stroke-width="1.41" stroke-linejoin="miter"/>
<text font-size="33.1" y="311.6"><tspan x="1183.6" font-style="oblique">n</tspan><tspan x="1211.03">=</tspan><tspan x="1245.21">14</tspan></text>
<line x1="1088.3" x2="1158" y1="349.75" y2="349.75" stroke="#bdb2ff" stroke-width="3.52"/>
<polygon points="1123.1,343.78 1129.07,349.75 1123.1,355.72 1117.13,349.75" fill="#bdb2ff" stroke="#bdb2ff" stroke-width="1.41" stroke-linejoin="miter"/>
<text font-size="33.1" y="360.85"><tspan x="1183.6" font-style="oblique">n</tspan><tspan x="1211.03">=</tspan><tspan x="1245.21">16</tspan></text>
<rect x="581.6" y="60.1" width="737.35" height="333.35" fill="none" stroke="#000" stroke-width="1.4"/>
<line x1="676.43" x2="676.43" y1="393.45" y2="398.87" stroke="#000" stroke-width="1.4"/>
<text x="676.58" y="424.7" font-size="28.13" text-anchor="end" >20</text>
<line x1="811.71" x2="811.71" y1="393.45" y2="398.87" stroke="#000" stroke-width="1.4"/>
<text x="811.86" y="424.7" font-size="28.13" text-anchor="end" >40</text>
<line x1="946.99" x2="946.99" y1="393.45" y2="398.87" stroke="#000" stroke-width="1.4"/>
<text x="947.14" y="424.7" font-size="28.13" text-anchor="end" >60</text>
<line x1="1082.28" x2="1082.28" y1="393.45" y2="398.87" stroke="#000" stroke-width="1.4"/>
<text x="1082.43" y="424.7" font-size="28.13" text-anchor="end" >80</text>
<line x1="1217.56" x2="1217.56" y1="393.45" y2="398.87" stroke="#000" stroke-width="1.4"/>
<text x="1217.71" y="424.7" font-size="28.13" text-anchor="end" >100</text>
<line x1="576.18" x2="581.6" y1="325.8" y2="325.8" stroke="#000" stroke-width="1.4"/>
<text font-size="28.13" y="336" x="505.21">10<tspan font-size="19.69" x="541.28" dy="-10.99">−2</tspan></text>
<line x1="576.18" x2="581.6" y1="242.14" y2="242.14" stroke="#000" stroke-width="1.4"/>
<text font-size="28.13" y="252.34" x="505.21">10<tspan font-size="19.69" x="541.28" dy="-10.99">−1</tspan></text>
<line x1="576.18" x2="581.6" y1="158.48" y2="158.48" stroke="#000" stroke-width="1.4"/>
<text font-size="28.13" y="168.68" x="521.71">10<tspan font-size="19.69" x="557.78" dy="-10.99">0</tspan></text>
<line x1="576.18" x2="581.6" y1="74.82" y2="74.82" stroke="#000" stroke-width="1.4"/>
<text font-size="28.13" y="85.82" x="521.71">10<tspan font-size="19.69" x="557.78" dy="-10.99">1</tspan></text>
<line x1="578.29" x2="581.6" y1="384.28" y2="384.28" stroke="#000" stroke-width="1.0"/>
<line x1="578.29" x2="581.6" y1="369.54" y2="369.54" stroke="#000" stroke-width="1.0"/>
<line x1="578.29" x2="581.6" y1="359.09" y2="359.09" stroke="#000" stroke-width="1.0"/>
<line x1="578.29" x2="581.6" y1="350.98" y2="350.98" stroke="#000" stroke-width="1.0"/>
<line x1="578.29" x2="581.6" y1="344.36" y2="344.36" stroke="#000" stroke-width="1.0"/>
<line x1="578.29" x2="581.6" y1="338.76" y2="338.76" stroke="#000" stroke-width="1.0"/>
<line x1="578.29" x2="581.6" y1="333.91" y2="333.91" stroke="#000" stroke-width="1.0"/>
<line x1="578.29" x2="581.6" y1="329.63" y2="329.63" stroke="#000" stroke-width="1.0"/>
<line x1="578.29" x2="581.6" y1="300.62" y2="300.62" stroke="#000" stroke-width="1.0"/>
<line x1="578.29" x2="581.6" y1="285.88" y2="285.88" stroke="#000" stroke-width="1.0"/>
<line x1="578.29" x2="581.6" y1="275.43" y2="275.43" stroke="#000" stroke-width="1.0"/>
<line x1="578.29" x2="581.6" y1="267.32" y2="267.32" stroke="#000" stroke-width="1.0"/>
<line x1="578.29" x2="581.6" y1="260.7" y2="260.7" stroke="#000" stroke-width="1.0"/>
<line x1="578.29" x2="581.6" y1="255.1" y2="255.1" stroke="#000" stroke-width="1.0"/>
<line x1="578.29" x2="581.6" y1="250.25" y2="250.25" stroke="#000" stroke-width="1.0"/>
<line x1="578.29" x2="581.6" y1="245.97" y2="245.97" stroke="#000" stroke-width="1.0"/>
<line x1="578.29" x2="581.6" y1="216.96" y2="216.96" stroke="#000" stroke-width="1.0"/>
<line x1="578.29" x2="581.6" y1="202.22" y2="202.22" stroke="#000" stroke-width="1.0"/>
<line x1="578.29" x2="581.6" y1="191.77" y2="191.77" stroke="#000" stroke-width="1.0"/>
<line x1="578.29" x2="581.6" y1="183.66" y2="183.66" stroke="#000" stroke-width="1.0"/>
<line x1="578.29" x2="581.6" y1="177.04" y2="177.04" stroke="#000" stroke-width="1.0"/>
<line x1="578.29" x2="581.6" y1="171.44" y2="171.44" stroke="#000" stroke-width="1.0"/>
<line x1="578.29" x2="581.6" y1="166.59" y2="166.59" stroke="#000" stroke-width="1.0"/>
<line x1="578.29" x2="581.6" y1="162.31" y2="162.31" stroke="#000" stroke-width="1.0"/>
<line x1="578.29" x2="581.6" y1="133.3" y2="133.3" stroke="#000" stroke-width="1.0"/>
<line x1="578.29" x2="581.6" y1="118.56" y2="118.56" stroke="#000" stroke-width="1.0"/>
<line x1="578.29" x2="581.6" y1="108.11" y2="108.11" stroke="#000" stroke-width="1.0"/>
<line x1="578.29" x2="581.6" y1="100" y2="100" stroke="#000" stroke-width="1.0"/>
<line x1="578.29" x2="581.6" y1="93.38" y2="93.38" stroke="#000" stroke-width="1.0"/>
<line x1="578.29" x2="581.6" y1="87.78" y2="87.78" stroke="#000" stroke-width="1.0"/>
<line x1="578.29" x2="581.6" y1="82.93" y2="82.93" stroke="#000" stroke-width="1.0"/>
<line x1="578.29" x2="581.6" y1="78.65" y2="78.65" stroke="#000" stroke-width="1.0"/>
<text x="950.2" y="467.8" font-size="41.85" text-anchor="middle" >Layers</text>
<g transform="translate(484.2 274.1) rotate(-90)">
<text font-size="41.8" y="0" x="0 28.6 54.21 71.39 87.7">Var(∇</text>
<text transform="translate(115.66 0) skewX(-7)" font-size="37.62" x="0" y="0" stroke="#000" stroke-width="1.0">ℒ</text>
<text font-size="41.8" y="0" x="144.63">)</text>
<rect x="0" y="-40.4" width="160.94" height="2.9"/>
</g>
</svg>
</body></html>
